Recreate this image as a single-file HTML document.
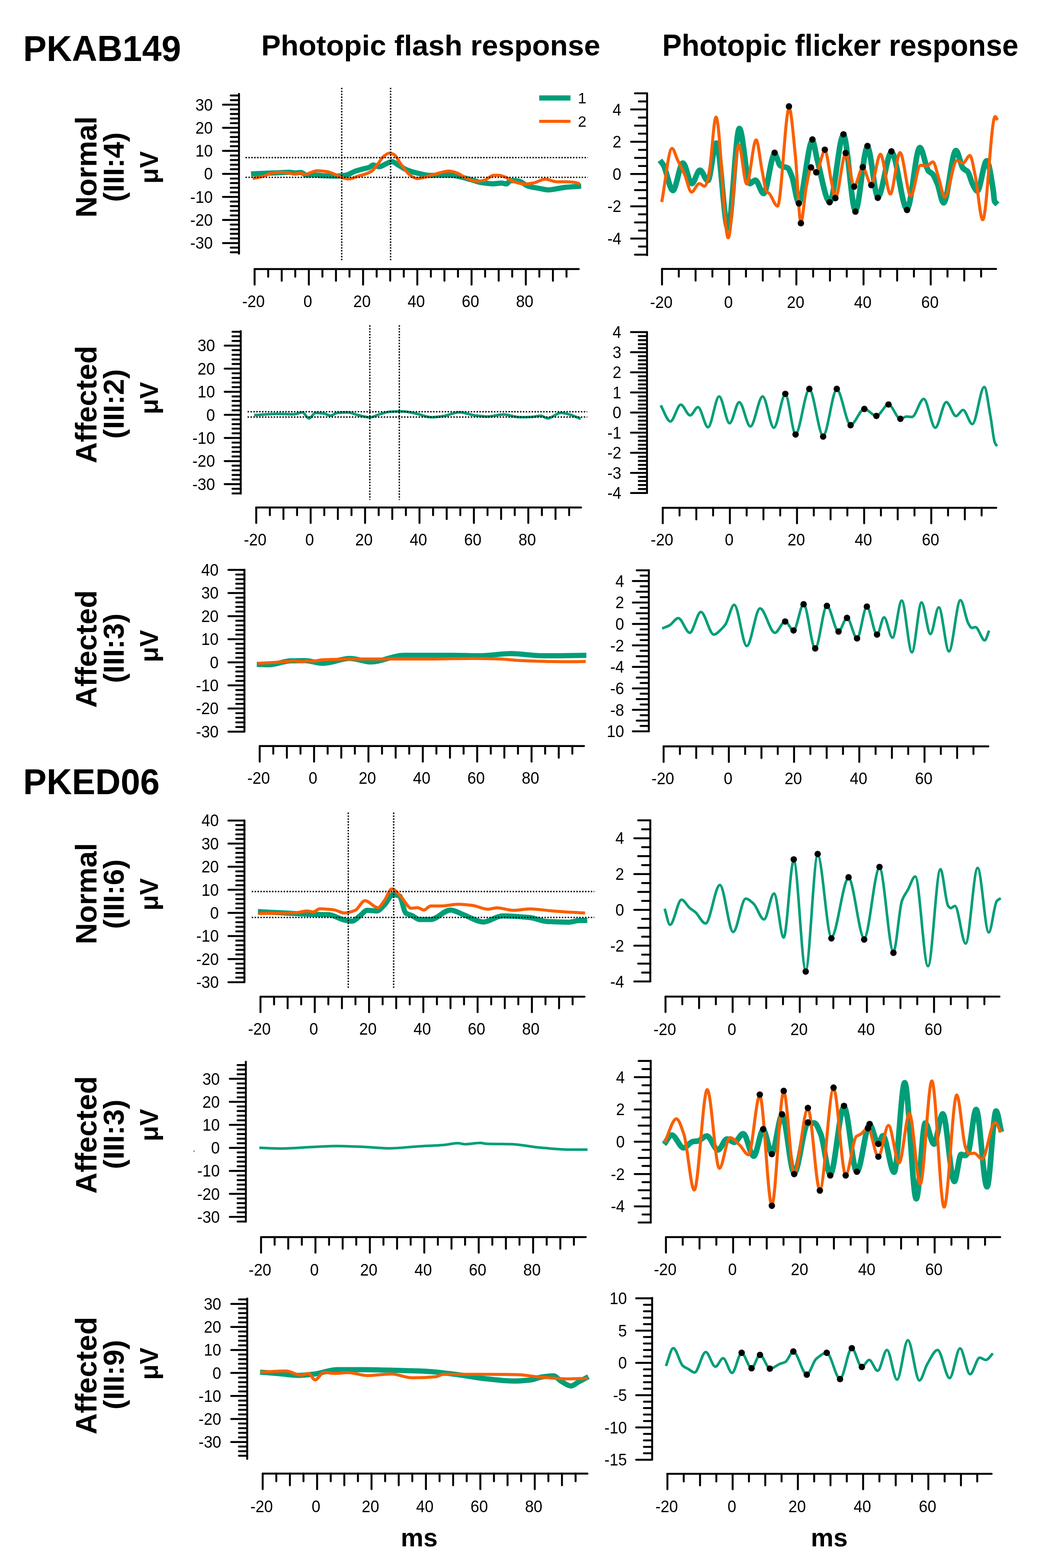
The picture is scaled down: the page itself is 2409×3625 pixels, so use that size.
<!DOCTYPE html>
<html><head><meta charset="utf-8"><title>ERG figure</title><style>html,body{margin:0;padding:0;background:#fff;width:2409px;height:3625px;overflow:hidden}svg{display:block}</style></head><body>
<svg width="2409" height="3625" viewBox="0 0 2409 3625">
<rect width="100%" height="100%" fill="#fff"/>
<style>.tl{font-family:"Liberation Sans",Arial,sans-serif;font-size:35.5px;fill:#000;stroke:none}.b{font-family:"Liberation Sans",Arial,sans-serif;font-weight:bold;fill:#000}</style>
<g fill="none" stroke-linejoin="round" stroke-linecap="butt">
<path d="M580.4,402.2C592,401.6 603.6,400.9 615.2,400.4C624.1,400 633.1,399.9 642,399.5C650.9,399.1 659.8,398.2 668.7,398.2C673.2,398.2 677.6,399.8 682.1,399.8C686.6,399.8 691,398.7 695.5,398.7C700,398.7 704.4,404.9 708.9,404.9C713.4,404.9 717.8,404.2 722.3,404.2C731.2,404.2 740.2,405.9 749.1,406.2C759.4,406.6 769.7,407 780,407C786.7,407 793.4,406.1 800.1,405C806.8,403.9 813.5,398.6 820.2,396.2C826.9,393.8 833.6,392 840.3,390.2C844.8,389 849.2,388.5 853.7,386.9C856.8,385.8 859.9,381.5 863,381.5C867.5,381.5 871.9,385.5 876.4,385.5C882.2,385.5 888,380.5 893.8,378.2C897.8,376.6 901.9,373.5 905.9,373.5C910.8,373.5 915.7,378.8 920.6,381.5C927.3,385.2 934,390.2 940.7,392.9C949.6,396.4 958.6,398.9 967.5,400.9C976.2,402.9 984.9,405.6 993.6,405.6C1002.4,405.6 1011.2,405 1020,405C1026.8,405 1033.6,405 1040.4,405C1049.3,405 1058.3,407.7 1067.2,409.6C1073.9,411 1080.6,413.2 1087.3,415C1096.2,417.4 1105.2,421.1 1114.1,422.4C1122.7,423.6 1131.4,424.9 1140,424.9C1146.7,424.9 1153.3,423.2 1160,423.2C1163.6,423.2 1167.2,425.2 1170.8,425.2C1173.9,425.2 1177.1,417.5 1180.2,417.5C1186.9,417.5 1193.6,418.1 1200.3,418.9C1207,419.7 1213.7,428.3 1220.4,430.3C1229.3,433 1238.2,434 1247.1,435.6C1253.8,436.8 1260.5,439 1267.2,439C1273.9,439 1280.6,437.3 1287.3,436.3C1294,435.3 1300.7,433.5 1307.4,432.9C1314.1,432.3 1320.8,432.1 1327.5,431.6C1332.9,431.2 1338.2,430.7 1343.6,430.3" stroke="#009E78" stroke-width="12"/>
<path d="M584.4,412.9C592.4,411.1 600.5,409.7 608.5,407.5C615.2,405.6 621.9,401.2 628.6,400.2C635.3,399.2 642,398.2 648.7,398.2C655.4,398.2 662,399.3 668.7,400.2C673.2,400.8 677.6,402.6 682.1,402.6C685.7,402.6 689.3,400.2 692.9,400.2C697.3,400.2 701.8,403.5 706.2,403.5C709.3,403.5 712.5,401.2 715.6,400.2C721.4,398.3 727.2,394.8 733,394.8C740.6,394.8 748.2,395.7 755.8,396.8C763.9,397.9 771.9,402.3 780,405.6C784.5,407.4 788.9,410.6 793.4,411.6C797.9,412.6 802.3,413.7 806.8,413.7C813.5,413.7 820.2,409.6 826.9,407.6C833.6,405.6 840.3,404.1 847,401.6C851.5,399.9 855.9,398.1 860.4,394.9C864.8,391.8 869.3,384.4 873.7,378.8C878.2,373.2 882.6,364.8 887.1,361.4C891.6,358 896,354.1 900.5,354.1C904.1,354.1 907.6,355.7 911.2,357.4C916.6,360 921.9,373.2 927.3,380.2C934,388.9 940.7,399.6 947.4,404.3C953.2,408.4 959,413 964.8,413C972.2,413 979.5,410.1 986.9,408.3C995.8,406.1 1004.8,402.4 1013.7,400.3C1021.7,398.4 1029.8,395.6 1037.8,395.6C1044.5,395.6 1051.1,398 1057.8,400.3C1063.2,402.1 1068.5,407.2 1073.9,409.6C1082.8,413.6 1091.8,419 1100.7,419C1107.4,419 1114.1,417.8 1120.8,416.3C1127.2,414.9 1133.6,405.9 1140,405.5C1143.6,405.3 1147.1,405.1 1150.7,405.1C1156.1,405.1 1161.4,407.1 1166.8,408.8C1173.5,410.9 1180.2,417.4 1186.9,419.6C1195.8,422.5 1204.8,425.6 1213.7,425.6C1220.4,425.6 1227,424.1 1233.7,422.9C1242.6,421.2 1251.6,414.2 1260.5,414.2C1269.4,414.2 1278.4,420.2 1287.3,420.2C1294,420.2 1300.7,420.2 1307.4,420.2C1314.1,420.2 1320.8,420.8 1327.5,421.6C1332,422.1 1336.4,423.8 1340.9,424.9" stroke="#FA5F00" stroke-width="7"/>
<path d="M587.5,959.8C605.7,958.8 624,956.8 642.2,956.8C654.6,956.8 667.1,957.8 679.5,957.8C686.1,957.8 692.8,953.6 699.4,953.6C704.4,953.6 709.3,967.3 714.3,967.3C719.3,967.3 724.3,954.8 729.3,954.8C735.9,954.8 742.6,955.4 749.2,956.1C754.2,956.7 759.1,961 764.1,961C769.1,961 774,955.3 779,954.8C787.3,954 795.6,953.6 803.9,953.6C812.2,953.6 820.5,958 828.8,959.8C837.5,961.7 846.2,964.8 854.9,964.8C862.8,964.8 870.6,959.4 878.5,957.3C886.8,955.1 895.1,952.2 903.4,951.8C911.7,951.4 920,951.1 928.3,951.1C938.9,951.1 949.4,953.8 960,955.7C972.8,958 985.5,964.6 998.3,964.6C1006.8,964.6 1015.3,963.2 1023.8,962.1C1036.5,960.4 1049.3,953.2 1062,953.2C1074.8,953.2 1087.5,959.4 1100.3,960.8C1108.8,961.8 1117.3,962.9 1125.8,962.9C1138.6,962.9 1151.3,958.3 1164.1,958.3C1176.8,958.3 1189.6,964.6 1202.3,964.6C1210.8,964.6 1219.4,964.3 1227.9,963.9C1235.5,963.6 1243.2,961.3 1250.8,961.3C1255.9,961.3 1261,967.2 1266.1,967.2C1276.3,967.2 1286.5,954.4 1296.7,954.4C1303.5,954.4 1310.3,956.6 1317.1,958.3C1325.6,960.5 1334.1,965.1 1342.6,968.5" stroke="#009E78" stroke-width="6"/>
<path d="M593.7,1536C603.2,1536.3 612.8,1536.8 622.3,1536.8C638.9,1536.8 655.4,1528.2 672,1527.8C682.8,1527.5 693.6,1527.3 704.4,1527.3C718.5,1527.3 732.6,1533.5 746.7,1533.5C767.4,1533.5 788.2,1522.3 808.9,1522.3C825.5,1522.3 842,1530.3 858.6,1530.3C883.5,1530.3 908.4,1514.9 933.3,1514.9C945.5,1514.9 957.8,1514.9 970,1514.9C994.9,1514.9 1019.7,1514.9 1044.6,1514.9C1065.3,1514.9 1086.1,1516.1 1106.8,1516.1C1131.7,1516.1 1156.5,1511.1 1181.4,1511.1C1206.3,1511.1 1231.2,1516.1 1256.1,1516.1C1289.3,1516.1 1322.4,1515.3 1355.6,1514.9" stroke="#009E78" stroke-width="12"/>
<path d="M596.2,1533.5C617.3,1532.3 638.5,1531.4 659.6,1529.8C666.2,1529.3 672.9,1527.8 679.5,1527.8C685.3,1527.8 691.1,1529.8 696.9,1529.8C701.1,1529.8 705.2,1527.8 709.4,1527.8C713.5,1527.8 717.7,1528.6 721.8,1528.6C730.1,1528.6 738.4,1525.6 746.7,1525.3C775.7,1524.2 804.8,1523.6 833.8,1523.6C879.2,1523.6 924.6,1523.6 970,1523.6C1011.5,1523.6 1052.9,1522.3 1094.4,1522.3C1115.1,1522.3 1135.9,1522.9 1156.6,1523.6C1173.2,1524.2 1189.7,1526.6 1206.3,1527.3C1239.5,1528.6 1272.6,1529.8 1305.8,1529.8C1322,1529.8 1338.1,1529.5 1354.3,1529.3" stroke="#FA5F00" stroke-width="7"/>
<path d="M596.2,2107.6C617.3,2108.7 638.5,2109.8 659.6,2110.8C680.3,2111.8 701.1,2113.2 721.8,2113.8C734.2,2114.2 746.7,2114.1 759.1,2114.6C771.5,2115.1 784,2124.6 796.4,2127C802.2,2128.1 808.1,2129.5 813.9,2129.5C820.5,2129.5 827.2,2120.6 833.8,2115.8C838.8,2112.2 843.7,2104.6 848.7,2104.6C856.2,2104.6 863.6,2105.9 871.1,2105.9C876.9,2105.9 882.7,2097.7 888.5,2092.2C895.1,2086 901.8,2068.6 908.4,2068.6C913.4,2068.6 918.3,2069.5 923.3,2071C928.3,2072.5 933.2,2107.2 938.2,2110.8C943.2,2114.4 948.2,2114.7 953.2,2117C958.8,2119.6 964.4,2125.8 970,2125.8C978.5,2125.8 987,2125.8 995.5,2125.8C1010.8,2125.8 1026.1,2103.9 1041.4,2103.9C1051.6,2103.9 1061.8,2111.1 1072,2114.8C1087.3,2120.3 1102.7,2131.4 1118,2131.4C1132.4,2131.4 1146.9,2117.4 1161.3,2117.4C1182.6,2117.4 1203.8,2119.1 1225.1,2121.2C1237.9,2122.5 1250.6,2129.4 1263.4,2130.2C1280.4,2131.2 1297.4,2131.9 1314.4,2131.9C1322.9,2131.9 1331.4,2128.1 1339.9,2128.1C1345.9,2128.1 1351.8,2128.1 1357.8,2128.1" stroke="#009E78" stroke-width="12"/>
<path d="M597.4,2112.1C626.4,2111.4 655.5,2111.5 684.5,2110.1C692.8,2109.7 701.1,2105.9 709.4,2105.9C714.4,2105.9 719.3,2108.4 724.3,2108.4C729.3,2108.4 734.2,2100.9 739.2,2100.9C750,2100.9 760.8,2102 771.6,2103.4C779.9,2104.4 788.1,2110.8 796.4,2110.8C804.7,2110.8 813,2107.9 821.3,2104.6C828.8,2101.6 836.2,2082.2 843.7,2082.2C853.7,2082.2 863.6,2098.4 873.6,2098.4C878.6,2098.4 883.5,2088.5 888.5,2082.2C894.3,2074.8 900.1,2054.9 905.9,2054.9C913.4,2054.9 920.8,2067.4 928.3,2074.8C935.8,2082.2 943.2,2099.7 950.7,2099.7C955.7,2099.7 960.6,2098.4 965.6,2098.4C970.5,2098.4 975.3,2103.9 980.2,2103.9C985.3,2103.9 990.4,2094.4 995.5,2094.4C1004,2094.4 1012.5,2094.4 1021,2094.4C1033.8,2094.4 1046.5,2090.6 1059.3,2090.6C1070.3,2090.6 1081.4,2091.9 1092.4,2093.2C1104.3,2094.6 1116.3,2102.1 1128.2,2102.1C1135,2102.1 1141.8,2098.8 1148.6,2098.8C1161.3,2098.8 1174.1,2104.6 1186.8,2104.6C1199.6,2104.6 1212.3,2101.3 1225.1,2101.3C1242.1,2101.3 1259.1,2104.6 1276.1,2105.9C1301.6,2107.9 1327.1,2109.3 1352.6,2111" stroke="#FA5F00" stroke-width="7"/>
<path d="M599.6,2653.5C617.4,2654.1 635.2,2655.2 653,2655.2C677.3,2655.2 701.7,2652.5 726,2651.4C743.6,2650.6 761.3,2649.4 778.9,2649.4C799.9,2649.4 820.9,2650.5 841.9,2651.4C861.2,2652.2 880.5,2654.7 899.8,2654.7C922.5,2654.7 945.1,2651.6 967.8,2650.2C988,2649 1008.1,2648.4 1028.3,2646.7C1038.4,2645.9 1048.4,2642.7 1058.5,2642.7C1063.5,2642.7 1068.6,2645.2 1073.6,2645.2C1086.2,2645.2 1098.8,2642.2 1111.4,2642.2C1115.6,2642.2 1119.8,2644 1124,2644.2C1144.2,2644.9 1164.3,2644.6 1184.5,2645.2C1204.6,2645.8 1224.8,2650.9 1244.9,2652.7C1270.1,2654.9 1295.3,2657.8 1320.5,2657.8C1333.1,2657.8 1345.7,2657.8 1358.3,2657.8" stroke="#009E78" stroke-width="6"/>
<path d="M601.3,3172.2C614.3,3173.2 627.4,3174.1 640.4,3175.2C657.2,3176.6 674,3179.7 690.8,3179.7C703.4,3179.7 715.9,3177.9 728.5,3176.4C745.3,3174.4 762.1,3166.4 778.9,3166.4C799.9,3166.4 820.9,3166.4 841.9,3166.4C867.1,3166.4 892.3,3167.4 917.5,3168.1C940,3168.7 962.5,3169.1 985,3170.2C1006.9,3171.2 1028.7,3174.4 1050.6,3177C1075.8,3180 1100.9,3185.3 1126.1,3187.8C1147.1,3189.9 1168.1,3192.8 1189.1,3192.8C1201.7,3192.8 1214.3,3191.7 1226.9,3190.3C1235.3,3189.4 1243.7,3184.7 1252.1,3183.5C1261.3,3182.1 1270.6,3180.7 1279.8,3180.7C1285.7,3180.7 1291.5,3189.9 1297.4,3193.3C1305,3197.7 1312.5,3204.2 1320.1,3204.2C1326,3204.2 1331.8,3197.9 1337.7,3194.8C1345.3,3190.8 1352.8,3186.7 1360.4,3182.7" stroke="#009E78" stroke-width="12"/>
<path d="M602.6,3172.2C621.9,3171.3 641.2,3169.6 660.5,3169.6C672.3,3169.6 684,3179 695.8,3179C701.7,3179 707.5,3175.2 713.4,3175.2C718.4,3175.2 723.5,3190.3 728.5,3190.3C735.2,3190.3 742,3172.7 748.7,3172.7C757.1,3172.7 765.5,3175.2 773.9,3175.2C784,3175.2 794,3173.2 804.1,3173.2C819.2,3173.2 834.3,3180.2 849.4,3180.2C867.9,3180.2 886.4,3176.4 904.9,3176.4C920.8,3176.4 936.8,3185.3 952.7,3185.3C971,3185.3 989.4,3184.4 1007.7,3182.7C1013.6,3182.1 1019.5,3177.2 1025.4,3177.2C1059,3177.2 1092.5,3177.2 1126.1,3177.2C1151.3,3177.2 1176.5,3177.5 1201.7,3178.2C1214.3,3178.5 1226.9,3181.6 1239.5,3182.7C1264.7,3184.9 1289.9,3187.8 1315.1,3187.8C1329.8,3187.8 1344.4,3186.9 1359.1,3186.5" stroke="#FA5F00" stroke-width="7"/>
<path d="M1525.6,370.7C1528.4,374.4 1531.2,377.1 1534,381.9C1541.2,394.1 1548.3,440.5 1555.5,440.5C1563.3,440.5 1571.1,377 1578.9,377C1585.7,377 1592.5,424.5 1599.3,424.5C1605.6,424.5 1611.9,393.4 1618.2,393.4C1624.3,393.4 1630.4,417.7 1636.5,417.7C1643,417.7 1649.6,330.7 1656.1,330.7C1665.1,330.7 1674,528 1683,528C1691.8,528 1700.6,297 1709.4,297C1717.4,297 1725.5,424.5 1733.5,424.5C1737.7,424.5 1742,416.5 1746.2,416.5C1752.6,416.5 1759,447.5 1765.4,447.5C1773.9,447.5 1782.3,356 1790.8,356C1795.3,356 1799.7,380.7 1804.2,383.1C1809.7,386.1 1815.3,385.1 1820.8,388.2C1824.2,390.1 1827.6,399.9 1831,408.6C1836.2,421.9 1841.4,468 1846.6,468C1857.1,468 1867.7,325.5 1878.2,325.5C1882,325.5 1885.8,356.4 1889.6,370.3C1899.2,405.3 1908.7,466.5 1918.3,466.5C1928.9,466.5 1939.4,312.5 1950,312.5C1959.2,312.5 1968.5,486.5 1977.7,486.5C1987,486.5 1996.2,340 2005.5,340C2013.5,340 2021.6,455 2029.6,455C2040.1,455 2050.5,352 2061,352C2073,352 2085,483 2097,483C2106.9,483 2116.8,340.9 2126.7,340.9C2133.2,340.9 2139.8,387.6 2146.3,395C2149.6,398.7 2152.8,398.9 2156.1,402.5C2159.8,406.6 2163.6,416.3 2167.3,425.4C2172,436.9 2176.7,469.1 2181.4,469.1C2191,469.1 2200.5,347.9 2210.1,347.9C2215.5,347.9 2220.9,382.9 2226.3,388.9C2230,393.1 2233.8,393 2237.5,397.3C2241.2,401.6 2245,419.1 2248.7,426C2252.3,432.6 2255.9,441.5 2259.5,441.5C2266.7,441.5 2273.8,371.8 2281,371.8C2286.1,371.8 2291.3,408.4 2296.4,441C2297.3,446.9 2298.3,463 2299.2,465C2301.6,470.1 2303.9,470.1 2306.3,472.6" stroke="#009E78" stroke-width="13"/>
<path d="M1529.8,467C1537.8,425.6 1545.7,342.9 1553.7,342.9C1557.9,342.9 1562.1,360.5 1566.3,369.3C1571.9,381 1577.5,391.4 1583.1,404.3C1588.3,416.2 1593.4,444 1598.6,444C1604.7,444 1610.7,424.5 1616.8,424.5C1620.8,424.5 1624.7,430.5 1628.7,430.5C1631.8,430.5 1634.8,420.9 1637.9,411.4C1643.7,393.3 1649.6,270.8 1655.4,270.8C1664.8,270.8 1674.1,549.8 1683.5,549.8C1691.7,549.8 1699.8,335.3 1708,335.3C1714.1,335.3 1720.2,425.3 1726.3,425.3C1733.6,425.3 1740.8,323.5 1748.1,323.5C1752.8,323.5 1757.4,373.1 1762.1,395.8C1765.5,412.3 1768.9,439.1 1772.3,443C1774.2,445.2 1776.1,445.3 1778,447C1784.5,452.9 1791.1,476.5 1797.6,476.5C1806.6,476.5 1815.5,250 1824.5,250C1829.2,250 1833.9,313.7 1838.6,357.6C1843,398.4 1847.3,514 1851.7,514C1855.8,514 1860,452 1864.1,431.7C1867.7,413.9 1871.4,389 1875,389C1879,389 1883.1,397 1887.1,397C1893.8,397 1900.6,348 1907.3,348C1912.1,348 1916.9,395.8 1921.7,417.3C1924.9,431.7 1928.1,458 1931.3,458C1939.2,458 1947.2,355 1955.1,355C1961.7,355 1968.2,430 1974.8,430C1981.4,430 1988,387.5 1994.6,387.5C2001.2,387.5 2007.8,427 2014.4,427C2021.4,427 2028.4,356.5 2035.4,356.5C2043.1,356.5 2050.7,448.6 2058.4,448.6C2065.8,448.6 2073.3,352.7 2080.7,352.7C2089,352.7 2097.3,452.9 2105.6,452.9C2113.1,452.9 2120.6,382 2128.1,382C2132.8,382 2137.4,384 2142.1,384C2147,384 2151.9,374.2 2156.8,374.2C2161.3,374.2 2165.7,398.2 2170.2,411.4C2174.9,425.2 2179.5,455.8 2184.2,455.8C2193.5,455.8 2202.9,371.4 2212.2,371.4C2216.9,371.4 2221.6,377 2226.3,377C2231.7,377 2237,359.4 2242.4,359.4C2246.4,359.4 2250.3,386.3 2254.3,404.3C2260.2,430.9 2266,508 2271.9,508C2281.5,508 2291,269.6 2300.6,269.6C2302.5,269.6 2304.4,274.8 2306.3,277.4" stroke="#FA5F00" stroke-width="7"/>
<path d="M1527.5,937.1C1535,949.5 1542.4,974.4 1549.9,974.4C1557.9,974.4 1565.9,935.5 1573.9,935.5C1581.1,935.5 1588.3,960.3 1595.5,960.3C1601.6,960.3 1607.6,941.3 1613.7,941.3C1621.4,941.3 1629.2,987.7 1636.9,987.7C1645.5,987.7 1654,916.4 1662.6,916.4C1670.6,916.4 1678.7,978.6 1686.7,978.6C1694.2,978.6 1701.6,929.7 1709.1,929.7C1717.7,929.7 1726.2,986 1734.8,986C1744.3,986 1753.7,916.4 1763.2,916.4C1771.8,916.4 1780.4,989 1789,989C1797.9,989 1806.7,912 1815.6,912C1823.5,912 1831.4,1003 1839.3,1003C1849.9,1003 1860.5,900.5 1871.1,900.5C1881.7,900.5 1892.4,1007.5 1903,1007.5C1913.5,1007.5 1924.1,900.5 1934.6,900.5C1945.2,900.5 1955.9,982 1966.5,982C1977.1,982 1987.7,945.4 1998.3,945.4C2007.6,945.4 2016.8,961.6 2026.1,961.6C2035.4,961.6 2044.8,935.1 2054.1,935.1C2063.3,935.1 2072.4,968.2 2081.6,968.2C2086.4,968.2 2091.1,963.1 2095.9,963.1C2100,963.1 2104.1,964.1 2108.2,964.1C2117.4,964.1 2126.5,922.2 2135.7,922.2C2144.5,922.2 2153.4,989 2162.2,989C2170.7,989 2179.3,929.4 2187.8,929.4C2195.3,929.4 2202.7,962 2210.2,962C2215.6,962 2221.1,947.8 2226.5,947.8C2233.7,947.8 2240.8,980.4 2248,980.4C2257.2,980.4 2266.3,894.7 2275.5,894.7C2280.3,894.7 2285,936.7 2289.8,962C2293.2,980.1 2296.6,1015.3 2300,1023.3C2301.7,1027.3 2303.4,1028.7 2305.1,1031.4" stroke="#009E78" stroke-width="6"/>
<path d="M1530.8,1452.9C1536.6,1450.4 1542.4,1448.7 1548.2,1445.5C1554.8,1441.8 1561.5,1428.9 1568.1,1428.9C1576.9,1428.9 1585.8,1462.9 1594.6,1462.9C1603.2,1462.9 1611.7,1414.8 1620.3,1414.8C1630.3,1414.8 1640.2,1467 1650.2,1467C1656.6,1467 1662.9,1458.9 1669.3,1452.9C1672,1450.3 1674.8,1447.1 1677.5,1443C1684.1,1433 1690.8,1398.2 1697.4,1398.2C1707.1,1398.2 1716.8,1493.5 1726.5,1493.5C1736.7,1493.5 1746.9,1406.5 1757.1,1406.5C1768.6,1406.5 1780,1462.9 1791.5,1462.9C1799.4,1462.9 1807.3,1436.8 1815.2,1436.8C1821.7,1436.8 1828.1,1457.6 1834.6,1457.6C1842.3,1457.6 1850.1,1396.9 1857.8,1396.9C1866.8,1396.9 1875.7,1499 1884.7,1499C1893.7,1499 1902.7,1400.7 1911.7,1400.7C1920.7,1400.7 1929.6,1460 1938.6,1460C1945.1,1460 1951.7,1428.5 1958.2,1428.5C1965.9,1428.5 1973.7,1475.8 1981.4,1475.8C1989,1475.8 1996.5,1402.5 2004.1,1402.5C2011.9,1402.5 2019.8,1467.1 2027.6,1467.1C2033,1467.1 2038.5,1427.3 2043.9,1427.3C2050.4,1427.3 2056.8,1474.3 2063.3,1474.3C2070.4,1474.3 2077.6,1388.6 2084.7,1388.6C2092.5,1388.6 2100.4,1508 2108.2,1508C2115.7,1508 2123.1,1392.7 2130.6,1392.7C2137.4,1392.7 2144.2,1466.1 2151,1466.1C2157.5,1466.1 2163.9,1403.9 2170.4,1403.9C2178.2,1403.9 2186.1,1505.9 2193.9,1505.9C2202.7,1505.9 2211.6,1387.6 2220.4,1387.6C2226.5,1387.6 2232.7,1431.3 2238.8,1441.6C2241.5,1446.1 2244.2,1451.8 2246.9,1451.8C2249.6,1451.8 2252.4,1449.8 2255.1,1449.8C2262.2,1449.8 2269.4,1480.4 2276.5,1480.4C2279.9,1480.4 2283.3,1465.5 2286.7,1458" stroke="#009E78" stroke-width="6"/>
<path d="M1536.6,2100.8C1540.7,2113.2 1544.9,2138.1 1549,2138.1C1557.9,2138.1 1566.7,2080.1 1575.6,2080.1C1581.9,2080.1 1588.3,2093.8 1594.6,2099.2C1599,2103 1603.5,2105.2 1607.9,2109.1C1615.6,2115.9 1623.4,2134.8 1631.1,2134.8C1642.2,2134.8 1653.2,2046.1 1664.3,2046.1C1674.5,2046.1 1684.8,2154.7 1695,2154.7C1704.7,2154.7 1714.3,2077.6 1724,2077.6C1730.1,2077.6 1736.1,2083.9 1742.2,2089.2C1750.2,2096.3 1758.3,2125.6 1766.3,2125.6C1774,2125.6 1781.8,2065.7 1789.5,2065.7C1796.9,2065.7 1804.4,2167.5 1811.8,2167.5C1819.5,2167.5 1827.3,1989.5 1835,1989.5C1844.2,1989.5 1853.5,2242.5 1862.7,2242.5C1871.9,2242.5 1881.2,1977 1890.4,1977C1901,1977 1911.5,2166 1922.1,2166C1935.3,2166 1948.6,2030.5 1961.8,2030.5C1973.8,2030.5 1985.9,2168.5 1997.9,2168.5C2009.7,2168.5 2021.5,2006.5 2033.3,2006.5C2044,2006.5 2054.8,2200 2065.5,2200C2072.1,2200 2078.6,2100.6 2085.2,2082.6C2089.8,2069.9 2094.5,2065.4 2099.1,2056.9C2104.7,2046.6 2110.3,2026.2 2115.9,2026.2C2125.8,2026.2 2135.6,2233.8 2145.5,2233.8C2155.1,2233.8 2164.6,2009.4 2174.2,2009.4C2180.1,2009.4 2186.1,2086.8 2192,2094.4C2194,2096.9 2195.9,2099.4 2197.9,2099.4C2201.2,2099.4 2204.5,2094.4 2207.8,2094.4C2216,2094.4 2224.3,2181.4 2232.5,2181.4C2241.7,2181.4 2251,2006.5 2260.2,2006.5C2268.8,2006.5 2277.3,2155.7 2285.9,2155.7C2292.2,2155.7 2298.4,2089.2 2304.7,2082.6C2307.7,2079.5 2310.6,2078.6 2313.6,2076.6" stroke="#009E78" stroke-width="6"/>
<path d="M1535.3,2645.4C1541.2,2638.3 1547,2624 1552.9,2624C1562.1,2624 1571.3,2653.8 1580.5,2653.8C1587.4,2653.8 1594.2,2640.6 1601.1,2639.3C1605.2,2638.5 1609.3,2638.6 1613.4,2637.8C1620.3,2636.5 1627.1,2626.3 1634,2626.3C1642.7,2626.3 1651.4,2658.4 1660.1,2658.4C1667,2658.4 1673.8,2633.2 1680.7,2633.2C1686.3,2633.2 1692,2640.8 1697.6,2640.8C1704.5,2640.8 1711.3,2620.9 1718.2,2620.9C1726.3,2620.9 1734.4,2673 1742.5,2673C1749.8,2673 1757.2,2612 1764.5,2612C1771.1,2612 1777.8,2666 1784.4,2666C1792.3,2666 1800.2,2578 1808.1,2578C1817.4,2578 1826.8,2712 1836.1,2712C1846.7,2712 1857.2,2598.3 1867.8,2597C1872.7,2596.4 1877.5,2596 1882.4,2596C1887.5,2596 1892.6,2610.2 1897.7,2622.5C1904.9,2639.9 1912.2,2715 1919.4,2715C1930,2715 1940.6,2559 1951.2,2559C1961.1,2559 1971.1,2709 1981,2709C1990.8,2709 2000.7,2600 2010.5,2600C2017.2,2600 2024,2645 2030.7,2645C2034.2,2645 2037.6,2625.4 2041.1,2625.4C2049.8,2625.4 2058.4,2710 2067.1,2710C2075.3,2710 2083.4,2503 2091.6,2503C2100.5,2503 2109.5,2771.5 2118.4,2771.5C2125.3,2771.5 2132.2,2596.3 2139.1,2596.3C2145.7,2596.3 2152.4,2645 2159,2645C2165.9,2645 2172.7,2575 2179.6,2575C2188.5,2575 2197.4,2731.4 2206.3,2731.4C2211.6,2731.4 2216.8,2668.8 2222.1,2668.8C2225,2668.8 2227.9,2671.6 2230.8,2671.6C2233.2,2671.6 2235.6,2668.1 2238,2664.4C2244.2,2654.9 2250.5,2565 2256.7,2565C2265.1,2565 2273.5,2743.7 2281.9,2743.7C2288.9,2743.7 2295.8,2568.6 2302.8,2568.6C2306.9,2568.6 2311,2600.8 2315.1,2616.9" stroke="#009E78" stroke-width="13"/>
<path d="M1536.8,2640.8C1545.7,2622.7 1554.7,2586.5 1563.6,2586.5C1569.5,2586.5 1575.3,2605.5 1581.2,2622.5C1589.1,2645.5 1597.1,2751.2 1605,2751.2C1615,2751.2 1625.1,2519.1 1635.1,2519.1C1644.4,2519.1 1653.8,2701 1663.1,2701C1671.3,2701 1679.4,2630.1 1687.6,2630.1C1695,2630.1 1702.4,2640.3 1709.8,2647C1716.7,2653.2 1723.6,2669.6 1730.5,2669.6C1739.2,2669.6 1747.8,2533 1756.5,2533C1765.8,2533 1775.1,2786 1784.4,2786C1793.6,2786 1802.7,2524 1811.9,2524C1820,2524 1828,2713 1836.1,2713C1846.7,2713 1857.2,2563.5 1867.8,2563.5C1877,2563.5 1886.2,2751 1895.4,2751C1906,2751 1916.5,2516.5 1927.1,2516.5C1936.4,2516.5 1945.8,2716 1955.1,2716C1963.4,2716 1971.6,2633.5 1979.9,2627C1983,2624.6 1986,2624.2 1989.1,2622.4C1995,2618.9 2000.8,2608.6 2006.7,2608.6C2014.7,2608.6 2022.7,2674 2030.7,2674C2038.5,2674 2046.3,2601.7 2054.1,2601.7C2062.3,2601.7 2070.4,2688.7 2078.6,2688.7C2086.5,2688.7 2094.5,2574.1 2102.4,2574.1C2110.8,2574.1 2119.2,2737 2127.6,2737C2136.5,2737 2145.5,2499.1 2154.4,2499.1C2163.8,2499.1 2173.3,2790.7 2182.7,2790.7C2192.5,2790.7 2202.2,2531.6 2212,2531.6C2218.7,2531.6 2225.5,2636.7 2232.2,2652.9C2235.1,2659.9 2238,2667.3 2240.9,2667.3C2244.7,2667.3 2248.6,2665.9 2252.4,2665.9C2258.4,2665.9 2264.4,2679.6 2270.4,2679.6C2280.3,2679.6 2290.1,2595.3 2300,2595.3C2304.8,2595.3 2309.6,2610.2 2314.4,2617.6" stroke="#FA5F00" stroke-width="7"/>
<path d="M1539.6,3157.9C1545.3,3144.2 1550.9,3116.8 1556.6,3116.8C1564,3116.8 1571.5,3151.8 1578.9,3157.9C1583.1,3161.3 1587.2,3162.7 1591.4,3165C1596.2,3167.7 1600.9,3173 1605.7,3173C1614.3,3173 1623,3125.7 1631.6,3125.7C1639,3125.7 1646.5,3159.6 1653.9,3159.6C1659.9,3159.6 1665.8,3140 1671.8,3140C1678.6,3140 1685.5,3173.9 1692.3,3173.9C1699.7,3173.9 1707.2,3128 1714.6,3128C1722.2,3128 1729.9,3163 1737.5,3163C1744,3163 1750.5,3132.5 1757,3132.5C1764.8,3132.5 1772.6,3164 1780.4,3164C1788,3164 1795.6,3156 1803.2,3153C1807.4,3151.3 1811.5,3150.8 1815.7,3148.6C1821.8,3145.3 1828,3124.8 1834.1,3124.8C1844.5,3124.8 1854.8,3177.5 1865.2,3177.5C1872.5,3177.5 1879.8,3147.6 1887.1,3141.4C1895.2,3134.6 1903.2,3127.8 1911.3,3127.8C1921.6,3127.8 1931.8,3187.5 1942.1,3187.5C1951.2,3187.5 1960.2,3117.3 1969.3,3117.3C1977,3117.3 1984.8,3160 1992.5,3160C1998.2,3160 2003.8,3144.1 2009.5,3144.1C2016,3144.1 2022.6,3169.1 2029.1,3169.1C2036.3,3169.1 2043.4,3120.9 2050.6,3120.9C2058.4,3120.9 2066.1,3189.6 2073.9,3189.6C2082.2,3189.6 2090.6,3098.6 2098.9,3098.6C2107.8,3098.6 2116.8,3191.4 2125.7,3191.4C2131.7,3191.4 2137.6,3163.9 2143.6,3153.9C2151.6,3140.5 2159.7,3120.9 2167.7,3120.9C2176.9,3120.9 2186.2,3186.1 2195.4,3186.1C2203.4,3186.1 2211.5,3117.3 2219.5,3117.3C2227.2,3117.3 2235,3177.1 2242.7,3177.1C2250.1,3177.1 2257.6,3138.8 2265,3138.8C2269.8,3138.8 2274.5,3144.1 2279.3,3144.1C2284.7,3144.1 2290,3134 2295.4,3128.9" stroke="#009E78" stroke-width="6"/>
</g>
<g stroke="#000" stroke-width="3.2" stroke-dasharray="3.3 3.4" fill="none">
<line x1="567.6" y1="364.4" x2="1359" y2="364.4"/>
<line x1="567.6" y1="410" x2="1359" y2="410"/>
<line x1="790" y1="203" x2="790" y2="604"/>
<line x1="903" y1="203" x2="903" y2="604"/>
<line x1="572.4" y1="951.8" x2="1357.6" y2="951.8"/>
<line x1="572.4" y1="964.2" x2="1357.6" y2="964.2"/>
<line x1="855" y1="752" x2="855" y2="1155.7"/>
<line x1="923.2" y1="752" x2="923.2" y2="1155.7"/>
<line x1="582" y1="2061.1" x2="1374" y2="2061.1"/>
<line x1="582" y1="2121" x2="1374" y2="2121"/>
<line x1="805.2" y1="1878.5" x2="805.2" y2="2285.7"/>
<line x1="910.1" y1="1878.5" x2="910.1" y2="2285.7"/>
</g>
<g fill="#000">
<circle cx="1824" cy="245.9" r="7.4"/>
<circle cx="1790.8" cy="353.1" r="7.4"/>
<circle cx="1878.2" cy="322.5" r="7.4"/>
<circle cx="1906.9" cy="346.1" r="7.4"/>
<circle cx="1875" cy="386.9" r="7.4"/>
<circle cx="1887.1" cy="398.4" r="7.4"/>
<circle cx="1846.9" cy="470.2" r="7.4"/>
<circle cx="1851.6" cy="516.1" r="7.4"/>
<circle cx="1917.9" cy="467.6" r="7.4"/>
<circle cx="1931.3" cy="458" r="7.4"/>
<circle cx="1950" cy="310.6" r="7.4"/>
<circle cx="1955.1" cy="353.7" r="7.4"/>
<circle cx="2005.5" cy="337.4" r="7.4"/>
<circle cx="2060.9" cy="349.9" r="7.4"/>
<circle cx="1994.6" cy="386.5" r="7.4"/>
<circle cx="1974.8" cy="431.5" r="7.4"/>
<circle cx="2014.4" cy="428" r="7.4"/>
<circle cx="2029.4" cy="457.3" r="7.4"/>
<circle cx="1977.7" cy="489.2" r="7.4"/>
<circle cx="2097" cy="485.4" r="7.4"/>
<circle cx="1815.6" cy="910.6" r="7.4"/>
<circle cx="1839.3" cy="1004.6" r="7.4"/>
<circle cx="1871.1" cy="899" r="7.4"/>
<circle cx="1903" cy="1009.3" r="7.4"/>
<circle cx="1934.6" cy="899" r="7.4"/>
<circle cx="1966.5" cy="983" r="7.4"/>
<circle cx="1998.3" cy="945.4" r="7.4"/>
<circle cx="2026.1" cy="961.6" r="7.4"/>
<circle cx="2054.1" cy="935.1" r="7.4"/>
<circle cx="2081.6" cy="968.2" r="7.4"/>
<circle cx="1815.2" cy="1436.8" r="7.4"/>
<circle cx="1834.6" cy="1457.6" r="7.4"/>
<circle cx="1857.8" cy="1396.9" r="7.4"/>
<circle cx="1884.7" cy="1499" r="7.4"/>
<circle cx="1911.7" cy="1400.7" r="7.4"/>
<circle cx="1938.6" cy="1460" r="7.4"/>
<circle cx="1958.2" cy="1428.5" r="7.4"/>
<circle cx="1981.4" cy="1475.8" r="7.4"/>
<circle cx="2004.1" cy="1402.3" r="7.4"/>
<circle cx="2027.6" cy="1467.1" r="7.4"/>
<circle cx="1835" cy="1986.8" r="7.4"/>
<circle cx="1862.7" cy="2246.1" r="7.4"/>
<circle cx="1890.4" cy="1974.3" r="7.4"/>
<circle cx="1922.1" cy="2169.3" r="7.4"/>
<circle cx="1961.8" cy="2028.2" r="7.4"/>
<circle cx="1997.9" cy="2172" r="7.4"/>
<circle cx="2033.3" cy="2004.3" r="7.4"/>
<circle cx="2065.5" cy="2202.8" r="7.4"/>
<circle cx="1756.5" cy="2530.6" r="7.4"/>
<circle cx="1764.5" cy="2610.5" r="7.4"/>
<circle cx="1784.4" cy="2668.1" r="7.4"/>
<circle cx="1811.9" cy="2521.9" r="7.4"/>
<circle cx="1808.1" cy="2576.2" r="7.4"/>
<circle cx="1836.1" cy="2714.3" r="7.4"/>
<circle cx="1867.8" cy="2561.5" r="7.4"/>
<circle cx="1867.8" cy="2594.9" r="7.4"/>
<circle cx="1927.1" cy="2514.5" r="7.4"/>
<circle cx="1951.2" cy="2556.6" r="7.4"/>
<circle cx="1919.4" cy="2717.4" r="7.4"/>
<circle cx="1955.1" cy="2717.4" r="7.4"/>
<circle cx="1981" cy="2708.8" r="7.4"/>
<circle cx="1784.4" cy="2787.6" r="7.4"/>
<circle cx="1895.4" cy="2752.4" r="7.4"/>
<circle cx="2010.5" cy="2598.6" r="7.4"/>
<circle cx="2006.7" cy="2608.6" r="7.4"/>
<circle cx="2030.7" cy="2644.5" r="7.4"/>
<circle cx="2030.7" cy="2674.1" r="7.4"/>
<circle cx="1714.6" cy="3127.5" r="7.4"/>
<circle cx="1737.5" cy="3163.2" r="7.4"/>
<circle cx="1757" cy="3132.3" r="7.4"/>
<circle cx="1779.8" cy="3164.1" r="7.4"/>
<circle cx="1834.1" cy="3124.5" r="7.4"/>
<circle cx="1865.2" cy="3178" r="7.4"/>
<circle cx="1911.3" cy="3127.5" r="7.4"/>
<circle cx="1942.1" cy="3188.2" r="7.4"/>
<circle cx="1969.3" cy="3116.8" r="7.4"/>
<circle cx="1992.5" cy="3160.2" r="7.4"/>
</g>
<g stroke="#000" stroke-width="4.5" stroke-linecap="round">
<line x1="552.5" y1="217" x2="552.5" y2="586.5"/>
<line x1="533.5" y1="583.2" x2="552.5" y2="583.2"/>
<line x1="533.5" y1="572.6" x2="552.5" y2="572.6"/>
<line x1="515.5" y1="561.9" x2="552.5" y2="561.9"/>
<line x1="533.5" y1="551.2" x2="552.5" y2="551.2"/>
<line x1="533.5" y1="540.6" x2="552.5" y2="540.6"/>
<line x1="533.5" y1="529.9" x2="552.5" y2="529.9"/>
<line x1="533.5" y1="519.3" x2="552.5" y2="519.3"/>
<line x1="515.5" y1="508.6" x2="552.5" y2="508.6"/>
<line x1="533.5" y1="497.9" x2="552.5" y2="497.9"/>
<line x1="533.5" y1="487.3" x2="552.5" y2="487.3"/>
<line x1="533.5" y1="476.6" x2="552.5" y2="476.6"/>
<line x1="533.5" y1="466" x2="552.5" y2="466"/>
<line x1="515.5" y1="455.3" x2="552.5" y2="455.3"/>
<line x1="533.5" y1="444.6" x2="552.5" y2="444.6"/>
<line x1="533.5" y1="434" x2="552.5" y2="434"/>
<line x1="533.5" y1="423.3" x2="552.5" y2="423.3"/>
<line x1="533.5" y1="412.7" x2="552.5" y2="412.7"/>
<line x1="515.5" y1="402" x2="552.5" y2="402"/>
<line x1="533.5" y1="391.3" x2="552.5" y2="391.3"/>
<line x1="533.5" y1="380.7" x2="552.5" y2="380.7"/>
<line x1="533.5" y1="370" x2="552.5" y2="370"/>
<line x1="533.5" y1="359.4" x2="552.5" y2="359.4"/>
<line x1="515.5" y1="348.7" x2="552.5" y2="348.7"/>
<line x1="533.5" y1="338" x2="552.5" y2="338"/>
<line x1="533.5" y1="327.4" x2="552.5" y2="327.4"/>
<line x1="533.5" y1="316.7" x2="552.5" y2="316.7"/>
<line x1="533.5" y1="306.1" x2="552.5" y2="306.1"/>
<line x1="515.5" y1="295.4" x2="552.5" y2="295.4"/>
<line x1="533.5" y1="284.7" x2="552.5" y2="284.7"/>
<line x1="533.5" y1="274.1" x2="552.5" y2="274.1"/>
<line x1="533.5" y1="263.4" x2="552.5" y2="263.4"/>
<line x1="533.5" y1="252.8" x2="552.5" y2="252.8"/>
<line x1="515.5" y1="242.1" x2="552.5" y2="242.1"/>
<line x1="533.5" y1="231.4" x2="552.5" y2="231.4"/>
<line x1="533.5" y1="220.8" x2="552.5" y2="220.8"/>
<text class="tl" text-anchor="end" transform="translate(492,255.5) scale(1.02,1.1)">30</text>
<text class="tl" text-anchor="end" transform="translate(492,308.8) scale(1.02,1.1)">20</text>
<text class="tl" text-anchor="end" transform="translate(492,362.1) scale(1.02,1.1)">10</text>
<text class="tl" text-anchor="end" transform="translate(492,415.4) scale(1.02,1.1)">0</text>
<text class="tl" text-anchor="end" transform="translate(492,468.7) scale(1.02,1.1)">-10</text>
<text class="tl" text-anchor="end" transform="translate(492,522) scale(1.02,1.1)">-20</text>
<text class="tl" text-anchor="end" transform="translate(492,575.3) scale(1.02,1.1)">-30</text>
<line x1="588.6" y1="622" x2="1338" y2="622"/>
<line x1="588.6" y1="622" x2="588.6" y2="657.9"/>
<line x1="620" y1="622" x2="620" y2="639.8"/>
<line x1="651.3" y1="622" x2="651.3" y2="648.9"/>
<line x1="682.6" y1="622" x2="682.6" y2="639.8"/>
<line x1="714" y1="622" x2="714" y2="657.9"/>
<line x1="745.4" y1="622" x2="745.4" y2="639.8"/>
<line x1="776.7" y1="622" x2="776.7" y2="648.9"/>
<line x1="808" y1="622" x2="808" y2="639.8"/>
<line x1="839.4" y1="622" x2="839.4" y2="657.9"/>
<line x1="870.8" y1="622" x2="870.8" y2="639.8"/>
<line x1="902.1" y1="622" x2="902.1" y2="648.9"/>
<line x1="933.5" y1="622" x2="933.5" y2="639.8"/>
<line x1="964.8" y1="622" x2="964.8" y2="657.9"/>
<line x1="996.1" y1="622" x2="996.1" y2="639.8"/>
<line x1="1027.5" y1="622" x2="1027.5" y2="648.9"/>
<line x1="1058.8" y1="622" x2="1058.8" y2="639.8"/>
<line x1="1090.2" y1="622" x2="1090.2" y2="657.9"/>
<line x1="1121.5" y1="622" x2="1121.5" y2="639.8"/>
<line x1="1152.9" y1="622" x2="1152.9" y2="648.9"/>
<line x1="1184.2" y1="622" x2="1184.2" y2="639.8"/>
<line x1="1215.6" y1="622" x2="1215.6" y2="657.9"/>
<line x1="1246.9" y1="622" x2="1246.9" y2="639.8"/>
<line x1="1278.3" y1="622" x2="1278.3" y2="648.9"/>
<line x1="1309.7" y1="622" x2="1309.7" y2="639.8"/>
<text class="tl" text-anchor="middle" transform="translate(586.1,710.3) scale(1.02,1.1)">-20</text>
<text class="tl" text-anchor="middle" transform="translate(711.5,710.3) scale(1.02,1.1)">0</text>
<text class="tl" text-anchor="middle" transform="translate(836.9,710.3) scale(1.02,1.1)">20</text>
<text class="tl" text-anchor="middle" transform="translate(962.3,710.3) scale(1.02,1.1)">40</text>
<text class="tl" text-anchor="middle" transform="translate(1087.7,710.3) scale(1.02,1.1)">60</text>
<text class="tl" text-anchor="middle" transform="translate(1213.1,710.3) scale(1.02,1.1)">80</text>
<line x1="556.5" y1="765.5" x2="556.5" y2="1141.3"/>
<line x1="537.5" y1="1140.7" x2="556.5" y2="1140.7"/>
<line x1="537.5" y1="1130" x2="556.5" y2="1130"/>
<line x1="519.5" y1="1119.3" x2="556.5" y2="1119.3"/>
<line x1="537.5" y1="1108.6" x2="556.5" y2="1108.6"/>
<line x1="537.5" y1="1097.9" x2="556.5" y2="1097.9"/>
<line x1="537.5" y1="1087.3" x2="556.5" y2="1087.3"/>
<line x1="537.5" y1="1076.6" x2="556.5" y2="1076.6"/>
<line x1="519.5" y1="1065.9" x2="556.5" y2="1065.9"/>
<line x1="537.5" y1="1055.2" x2="556.5" y2="1055.2"/>
<line x1="537.5" y1="1044.5" x2="556.5" y2="1044.5"/>
<line x1="537.5" y1="1033.9" x2="556.5" y2="1033.9"/>
<line x1="537.5" y1="1023.2" x2="556.5" y2="1023.2"/>
<line x1="519.5" y1="1012.5" x2="556.5" y2="1012.5"/>
<line x1="537.5" y1="1001.8" x2="556.5" y2="1001.8"/>
<line x1="537.5" y1="991.1" x2="556.5" y2="991.1"/>
<line x1="537.5" y1="980.5" x2="556.5" y2="980.5"/>
<line x1="537.5" y1="969.8" x2="556.5" y2="969.8"/>
<line x1="519.5" y1="959.1" x2="556.5" y2="959.1"/>
<line x1="537.5" y1="948.4" x2="556.5" y2="948.4"/>
<line x1="537.5" y1="937.7" x2="556.5" y2="937.7"/>
<line x1="537.5" y1="927.1" x2="556.5" y2="927.1"/>
<line x1="537.5" y1="916.4" x2="556.5" y2="916.4"/>
<line x1="519.5" y1="905.7" x2="556.5" y2="905.7"/>
<line x1="537.5" y1="895" x2="556.5" y2="895"/>
<line x1="537.5" y1="884.3" x2="556.5" y2="884.3"/>
<line x1="537.5" y1="873.7" x2="556.5" y2="873.7"/>
<line x1="537.5" y1="863" x2="556.5" y2="863"/>
<line x1="519.5" y1="852.3" x2="556.5" y2="852.3"/>
<line x1="537.5" y1="841.6" x2="556.5" y2="841.6"/>
<line x1="537.5" y1="830.9" x2="556.5" y2="830.9"/>
<line x1="537.5" y1="820.3" x2="556.5" y2="820.3"/>
<line x1="537.5" y1="809.6" x2="556.5" y2="809.6"/>
<line x1="519.5" y1="798.9" x2="556.5" y2="798.9"/>
<line x1="537.5" y1="788.2" x2="556.5" y2="788.2"/>
<line x1="537.5" y1="777.5" x2="556.5" y2="777.5"/>
<line x1="537.5" y1="766.9" x2="556.5" y2="766.9"/>
<text class="tl" text-anchor="end" transform="translate(497.1,812.3) scale(1.02,1.1)">30</text>
<text class="tl" text-anchor="end" transform="translate(497.1,865.7) scale(1.02,1.1)">20</text>
<text class="tl" text-anchor="end" transform="translate(497.1,919.1) scale(1.02,1.1)">10</text>
<text class="tl" text-anchor="end" transform="translate(497.1,972.5) scale(1.02,1.1)">0</text>
<text class="tl" text-anchor="end" transform="translate(497.1,1025.9) scale(1.02,1.1)">-10</text>
<text class="tl" text-anchor="end" transform="translate(497.1,1079.3) scale(1.02,1.1)">-20</text>
<text class="tl" text-anchor="end" transform="translate(497.1,1132.7) scale(1.02,1.1)">-30</text>
<line x1="592.2" y1="1173.2" x2="1343.3" y2="1173.2"/>
<line x1="592.4" y1="1173.2" x2="592.4" y2="1209.1"/>
<line x1="623.9" y1="1173.2" x2="623.9" y2="1191"/>
<line x1="655.3" y1="1173.2" x2="655.3" y2="1200.1"/>
<line x1="686.8" y1="1173.2" x2="686.8" y2="1191"/>
<line x1="718.2" y1="1173.2" x2="718.2" y2="1209.1"/>
<line x1="749.7" y1="1173.2" x2="749.7" y2="1191"/>
<line x1="781.1" y1="1173.2" x2="781.1" y2="1200.1"/>
<line x1="812.6" y1="1173.2" x2="812.6" y2="1191"/>
<line x1="844" y1="1173.2" x2="844" y2="1209.1"/>
<line x1="875.5" y1="1173.2" x2="875.5" y2="1191"/>
<line x1="906.9" y1="1173.2" x2="906.9" y2="1200.1"/>
<line x1="938.4" y1="1173.2" x2="938.4" y2="1191"/>
<line x1="969.8" y1="1173.2" x2="969.8" y2="1209.1"/>
<line x1="1001.2" y1="1173.2" x2="1001.2" y2="1191"/>
<line x1="1032.7" y1="1173.2" x2="1032.7" y2="1200.1"/>
<line x1="1064.2" y1="1173.2" x2="1064.2" y2="1191"/>
<line x1="1095.6" y1="1173.2" x2="1095.6" y2="1209.1"/>
<line x1="1127.1" y1="1173.2" x2="1127.1" y2="1191"/>
<line x1="1158.5" y1="1173.2" x2="1158.5" y2="1200.1"/>
<line x1="1190" y1="1173.2" x2="1190" y2="1191"/>
<line x1="1221.4" y1="1173.2" x2="1221.4" y2="1209.1"/>
<line x1="1252.8" y1="1173.2" x2="1252.8" y2="1191"/>
<line x1="1284.3" y1="1173.2" x2="1284.3" y2="1200.1"/>
<line x1="1315.8" y1="1173.2" x2="1315.8" y2="1191"/>
<text class="tl" text-anchor="middle" transform="translate(589.9,1260.8) scale(1.02,1.1)">-20</text>
<text class="tl" text-anchor="middle" transform="translate(715.7,1260.8) scale(1.02,1.1)">0</text>
<text class="tl" text-anchor="middle" transform="translate(841.5,1260.8) scale(1.02,1.1)">20</text>
<text class="tl" text-anchor="middle" transform="translate(967.3,1260.8) scale(1.02,1.1)">40</text>
<text class="tl" text-anchor="middle" transform="translate(1093.1,1260.8) scale(1.02,1.1)">60</text>
<text class="tl" text-anchor="middle" transform="translate(1218.9,1260.8) scale(1.02,1.1)">80</text>
<line x1="565.1" y1="1317.1" x2="565.1" y2="1690.7"/>
<line x1="528.1" y1="1691.4" x2="565.1" y2="1691.4"/>
<line x1="546.1" y1="1680.7" x2="565.1" y2="1680.7"/>
<line x1="546.1" y1="1670" x2="565.1" y2="1670"/>
<line x1="546.1" y1="1659.4" x2="565.1" y2="1659.4"/>
<line x1="546.1" y1="1648.7" x2="565.1" y2="1648.7"/>
<line x1="528.1" y1="1638" x2="565.1" y2="1638"/>
<line x1="546.1" y1="1627.3" x2="565.1" y2="1627.3"/>
<line x1="546.1" y1="1616.6" x2="565.1" y2="1616.6"/>
<line x1="546.1" y1="1606" x2="565.1" y2="1606"/>
<line x1="546.1" y1="1595.3" x2="565.1" y2="1595.3"/>
<line x1="528.1" y1="1584.6" x2="565.1" y2="1584.6"/>
<line x1="546.1" y1="1573.9" x2="565.1" y2="1573.9"/>
<line x1="546.1" y1="1563.2" x2="565.1" y2="1563.2"/>
<line x1="546.1" y1="1552.6" x2="565.1" y2="1552.6"/>
<line x1="546.1" y1="1541.9" x2="565.1" y2="1541.9"/>
<line x1="528.1" y1="1531.2" x2="565.1" y2="1531.2"/>
<line x1="546.1" y1="1520.5" x2="565.1" y2="1520.5"/>
<line x1="546.1" y1="1509.8" x2="565.1" y2="1509.8"/>
<line x1="546.1" y1="1499.2" x2="565.1" y2="1499.2"/>
<line x1="546.1" y1="1488.5" x2="565.1" y2="1488.5"/>
<line x1="528.1" y1="1477.8" x2="565.1" y2="1477.8"/>
<line x1="546.1" y1="1467.1" x2="565.1" y2="1467.1"/>
<line x1="546.1" y1="1456.4" x2="565.1" y2="1456.4"/>
<line x1="546.1" y1="1445.8" x2="565.1" y2="1445.8"/>
<line x1="546.1" y1="1435.1" x2="565.1" y2="1435.1"/>
<line x1="528.1" y1="1424.4" x2="565.1" y2="1424.4"/>
<line x1="546.1" y1="1413.7" x2="565.1" y2="1413.7"/>
<line x1="546.1" y1="1403" x2="565.1" y2="1403"/>
<line x1="546.1" y1="1392.4" x2="565.1" y2="1392.4"/>
<line x1="546.1" y1="1381.7" x2="565.1" y2="1381.7"/>
<line x1="528.1" y1="1371" x2="565.1" y2="1371"/>
<line x1="546.1" y1="1360.3" x2="565.1" y2="1360.3"/>
<line x1="546.1" y1="1349.6" x2="565.1" y2="1349.6"/>
<line x1="546.1" y1="1339" x2="565.1" y2="1339"/>
<line x1="546.1" y1="1328.3" x2="565.1" y2="1328.3"/>
<line x1="528.1" y1="1317.6" x2="565.1" y2="1317.6"/>
<text class="tl" text-anchor="end" transform="translate(505.4,1331) scale(1.02,1.1)">40</text>
<text class="tl" text-anchor="end" transform="translate(505.4,1384.4) scale(1.02,1.1)">30</text>
<text class="tl" text-anchor="end" transform="translate(505.4,1437.8) scale(1.02,1.1)">20</text>
<text class="tl" text-anchor="end" transform="translate(505.4,1491.2) scale(1.02,1.1)">10</text>
<text class="tl" text-anchor="end" transform="translate(505.4,1544.6) scale(1.02,1.1)">0</text>
<text class="tl" text-anchor="end" transform="translate(505.4,1598) scale(1.02,1.1)">-10</text>
<text class="tl" text-anchor="end" transform="translate(505.4,1651.4) scale(1.02,1.1)">-20</text>
<text class="tl" text-anchor="end" transform="translate(505.4,1704.8) scale(1.02,1.1)">-30</text>
<line x1="601.1" y1="1724.8" x2="1350.2" y2="1724.8"/>
<line x1="600.4" y1="1724.8" x2="600.4" y2="1760.7"/>
<line x1="631.8" y1="1724.8" x2="631.8" y2="1742.6"/>
<line x1="663.2" y1="1724.8" x2="663.2" y2="1751.7"/>
<line x1="694.7" y1="1724.8" x2="694.7" y2="1742.6"/>
<line x1="726.1" y1="1724.8" x2="726.1" y2="1760.7"/>
<line x1="757.5" y1="1724.8" x2="757.5" y2="1742.6"/>
<line x1="789" y1="1724.8" x2="789" y2="1751.7"/>
<line x1="820.4" y1="1724.8" x2="820.4" y2="1742.6"/>
<line x1="851.8" y1="1724.8" x2="851.8" y2="1760.7"/>
<line x1="883.2" y1="1724.8" x2="883.2" y2="1742.6"/>
<line x1="914.7" y1="1724.8" x2="914.7" y2="1751.7"/>
<line x1="946.1" y1="1724.8" x2="946.1" y2="1742.6"/>
<line x1="977.5" y1="1724.8" x2="977.5" y2="1760.7"/>
<line x1="1008.9" y1="1724.8" x2="1008.9" y2="1742.6"/>
<line x1="1040.3" y1="1724.8" x2="1040.3" y2="1751.7"/>
<line x1="1071.8" y1="1724.8" x2="1071.8" y2="1742.6"/>
<line x1="1103.2" y1="1724.8" x2="1103.2" y2="1760.7"/>
<line x1="1134.6" y1="1724.8" x2="1134.6" y2="1742.6"/>
<line x1="1166" y1="1724.8" x2="1166" y2="1751.7"/>
<line x1="1197.5" y1="1724.8" x2="1197.5" y2="1742.6"/>
<line x1="1228.9" y1="1724.8" x2="1228.9" y2="1760.7"/>
<line x1="1260.3" y1="1724.8" x2="1260.3" y2="1742.6"/>
<line x1="1291.8" y1="1724.8" x2="1291.8" y2="1751.7"/>
<line x1="1323.2" y1="1724.8" x2="1323.2" y2="1742.6"/>
<text class="tl" text-anchor="middle" transform="translate(597.9,1811.8) scale(1.02,1.1)">-20</text>
<text class="tl" text-anchor="middle" transform="translate(723.6,1811.8) scale(1.02,1.1)">0</text>
<text class="tl" text-anchor="middle" transform="translate(849.3,1811.8) scale(1.02,1.1)">20</text>
<text class="tl" text-anchor="middle" transform="translate(975,1811.8) scale(1.02,1.1)">40</text>
<text class="tl" text-anchor="middle" transform="translate(1100.7,1811.8) scale(1.02,1.1)">60</text>
<text class="tl" text-anchor="middle" transform="translate(1226.4,1811.8) scale(1.02,1.1)">80</text>
<line x1="565.1" y1="1896.7" x2="565.1" y2="2270.4"/>
<line x1="528.1" y1="2270.7" x2="565.1" y2="2270.7"/>
<line x1="546.1" y1="2260" x2="565.1" y2="2260"/>
<line x1="546.1" y1="2249.3" x2="565.1" y2="2249.3"/>
<line x1="546.1" y1="2238.7" x2="565.1" y2="2238.7"/>
<line x1="546.1" y1="2228" x2="565.1" y2="2228"/>
<line x1="528.1" y1="2217.3" x2="565.1" y2="2217.3"/>
<line x1="546.1" y1="2206.6" x2="565.1" y2="2206.6"/>
<line x1="546.1" y1="2195.9" x2="565.1" y2="2195.9"/>
<line x1="546.1" y1="2185.3" x2="565.1" y2="2185.3"/>
<line x1="546.1" y1="2174.6" x2="565.1" y2="2174.6"/>
<line x1="528.1" y1="2163.9" x2="565.1" y2="2163.9"/>
<line x1="546.1" y1="2153.2" x2="565.1" y2="2153.2"/>
<line x1="546.1" y1="2142.5" x2="565.1" y2="2142.5"/>
<line x1="546.1" y1="2131.9" x2="565.1" y2="2131.9"/>
<line x1="546.1" y1="2121.2" x2="565.1" y2="2121.2"/>
<line x1="528.1" y1="2110.5" x2="565.1" y2="2110.5"/>
<line x1="546.1" y1="2099.8" x2="565.1" y2="2099.8"/>
<line x1="546.1" y1="2089.1" x2="565.1" y2="2089.1"/>
<line x1="546.1" y1="2078.5" x2="565.1" y2="2078.5"/>
<line x1="546.1" y1="2067.8" x2="565.1" y2="2067.8"/>
<line x1="528.1" y1="2057.1" x2="565.1" y2="2057.1"/>
<line x1="546.1" y1="2046.4" x2="565.1" y2="2046.4"/>
<line x1="546.1" y1="2035.7" x2="565.1" y2="2035.7"/>
<line x1="546.1" y1="2025.1" x2="565.1" y2="2025.1"/>
<line x1="546.1" y1="2014.4" x2="565.1" y2="2014.4"/>
<line x1="528.1" y1="2003.7" x2="565.1" y2="2003.7"/>
<line x1="546.1" y1="1993" x2="565.1" y2="1993"/>
<line x1="546.1" y1="1982.3" x2="565.1" y2="1982.3"/>
<line x1="546.1" y1="1971.7" x2="565.1" y2="1971.7"/>
<line x1="546.1" y1="1961" x2="565.1" y2="1961"/>
<line x1="528.1" y1="1950.3" x2="565.1" y2="1950.3"/>
<line x1="546.1" y1="1939.6" x2="565.1" y2="1939.6"/>
<line x1="546.1" y1="1928.9" x2="565.1" y2="1928.9"/>
<line x1="546.1" y1="1918.3" x2="565.1" y2="1918.3"/>
<line x1="546.1" y1="1907.6" x2="565.1" y2="1907.6"/>
<line x1="528.1" y1="1896.9" x2="565.1" y2="1896.9"/>
<text class="tl" text-anchor="end" transform="translate(506,1910.3) scale(1.02,1.1)">40</text>
<text class="tl" text-anchor="end" transform="translate(506,1963.7) scale(1.02,1.1)">30</text>
<text class="tl" text-anchor="end" transform="translate(506,2017.1) scale(1.02,1.1)">20</text>
<text class="tl" text-anchor="end" transform="translate(506,2070.5) scale(1.02,1.1)">10</text>
<text class="tl" text-anchor="end" transform="translate(506,2123.9) scale(1.02,1.1)">0</text>
<text class="tl" text-anchor="end" transform="translate(506,2177.3) scale(1.02,1.1)">-10</text>
<text class="tl" text-anchor="end" transform="translate(506,2230.7) scale(1.02,1.1)">-20</text>
<text class="tl" text-anchor="end" transform="translate(506,2284.1) scale(1.02,1.1)">-30</text>
<line x1="602.4" y1="2304.2" x2="1351.3" y2="2304.2"/>
<line x1="602.2" y1="2304.2" x2="602.2" y2="2340.1"/>
<line x1="633.6" y1="2304.2" x2="633.6" y2="2322"/>
<line x1="665" y1="2304.2" x2="665" y2="2331.1"/>
<line x1="696.3" y1="2304.2" x2="696.3" y2="2322"/>
<line x1="727.7" y1="2304.2" x2="727.7" y2="2340.1"/>
<line x1="759.1" y1="2304.2" x2="759.1" y2="2322"/>
<line x1="790.5" y1="2304.2" x2="790.5" y2="2331.1"/>
<line x1="821.8" y1="2304.2" x2="821.8" y2="2322"/>
<line x1="853.2" y1="2304.2" x2="853.2" y2="2340.1"/>
<line x1="884.6" y1="2304.2" x2="884.6" y2="2322"/>
<line x1="916" y1="2304.2" x2="916" y2="2331.1"/>
<line x1="947.3" y1="2304.2" x2="947.3" y2="2322"/>
<line x1="978.7" y1="2304.2" x2="978.7" y2="2340.1"/>
<line x1="1010.1" y1="2304.2" x2="1010.1" y2="2322"/>
<line x1="1041.5" y1="2304.2" x2="1041.5" y2="2331.1"/>
<line x1="1072.8" y1="2304.2" x2="1072.8" y2="2322"/>
<line x1="1104.2" y1="2304.2" x2="1104.2" y2="2340.1"/>
<line x1="1135.6" y1="2304.2" x2="1135.6" y2="2322"/>
<line x1="1167" y1="2304.2" x2="1167" y2="2331.1"/>
<line x1="1198.3" y1="2304.2" x2="1198.3" y2="2322"/>
<line x1="1229.7" y1="2304.2" x2="1229.7" y2="2340.1"/>
<line x1="1261.1" y1="2304.2" x2="1261.1" y2="2322"/>
<line x1="1292.5" y1="2304.2" x2="1292.5" y2="2331.1"/>
<line x1="1323.8" y1="2304.2" x2="1323.8" y2="2322"/>
<text class="tl" text-anchor="middle" transform="translate(599.7,2391.7) scale(1.02,1.1)">-20</text>
<text class="tl" text-anchor="middle" transform="translate(725.2,2391.7) scale(1.02,1.1)">0</text>
<text class="tl" text-anchor="middle" transform="translate(850.7,2391.7) scale(1.02,1.1)">20</text>
<text class="tl" text-anchor="middle" transform="translate(976.2,2391.7) scale(1.02,1.1)">40</text>
<text class="tl" text-anchor="middle" transform="translate(1101.7,2391.7) scale(1.02,1.1)">60</text>
<text class="tl" text-anchor="middle" transform="translate(1227.2,2391.7) scale(1.02,1.1)">80</text>
<line x1="568.3" y1="2454.4" x2="568.3" y2="2824.3"/>
<line x1="549.3" y1="2823.9" x2="568.3" y2="2823.9"/>
<line x1="531.3" y1="2813.3" x2="568.3" y2="2813.3"/>
<line x1="549.3" y1="2802.7" x2="568.3" y2="2802.7"/>
<line x1="549.3" y1="2792" x2="568.3" y2="2792"/>
<line x1="549.3" y1="2781.4" x2="568.3" y2="2781.4"/>
<line x1="549.3" y1="2770.7" x2="568.3" y2="2770.7"/>
<line x1="531.3" y1="2760.1" x2="568.3" y2="2760.1"/>
<line x1="549.3" y1="2749.5" x2="568.3" y2="2749.5"/>
<line x1="549.3" y1="2738.8" x2="568.3" y2="2738.8"/>
<line x1="549.3" y1="2728.2" x2="568.3" y2="2728.2"/>
<line x1="549.3" y1="2717.5" x2="568.3" y2="2717.5"/>
<line x1="531.3" y1="2706.9" x2="568.3" y2="2706.9"/>
<line x1="549.3" y1="2696.3" x2="568.3" y2="2696.3"/>
<line x1="549.3" y1="2685.6" x2="568.3" y2="2685.6"/>
<line x1="549.3" y1="2675" x2="568.3" y2="2675"/>
<line x1="549.3" y1="2664.3" x2="568.3" y2="2664.3"/>
<line x1="531.3" y1="2653.7" x2="568.3" y2="2653.7"/>
<line x1="549.3" y1="2643.1" x2="568.3" y2="2643.1"/>
<line x1="549.3" y1="2632.4" x2="568.3" y2="2632.4"/>
<line x1="549.3" y1="2621.8" x2="568.3" y2="2621.8"/>
<line x1="549.3" y1="2611.1" x2="568.3" y2="2611.1"/>
<line x1="531.3" y1="2600.5" x2="568.3" y2="2600.5"/>
<line x1="549.3" y1="2589.9" x2="568.3" y2="2589.9"/>
<line x1="549.3" y1="2579.2" x2="568.3" y2="2579.2"/>
<line x1="549.3" y1="2568.6" x2="568.3" y2="2568.6"/>
<line x1="549.3" y1="2557.9" x2="568.3" y2="2557.9"/>
<line x1="531.3" y1="2547.3" x2="568.3" y2="2547.3"/>
<line x1="549.3" y1="2536.7" x2="568.3" y2="2536.7"/>
<line x1="549.3" y1="2526" x2="568.3" y2="2526"/>
<line x1="549.3" y1="2515.4" x2="568.3" y2="2515.4"/>
<line x1="549.3" y1="2504.7" x2="568.3" y2="2504.7"/>
<line x1="531.3" y1="2494.1" x2="568.3" y2="2494.1"/>
<line x1="549.3" y1="2483.5" x2="568.3" y2="2483.5"/>
<line x1="549.3" y1="2472.8" x2="568.3" y2="2472.8"/>
<line x1="549.3" y1="2462.2" x2="568.3" y2="2462.2"/>
<text class="tl" text-anchor="end" transform="translate(508.2,2507.5) scale(1.02,1.1)">30</text>
<text class="tl" text-anchor="end" transform="translate(508.2,2560.7) scale(1.02,1.1)">20</text>
<text class="tl" text-anchor="end" transform="translate(508.2,2613.9) scale(1.02,1.1)">10</text>
<text class="tl" text-anchor="end" transform="translate(508.2,2667.1) scale(1.02,1.1)">0</text>
<text class="tl" text-anchor="end" transform="translate(508.2,2720.3) scale(1.02,1.1)">-10</text>
<text class="tl" text-anchor="end" transform="translate(508.2,2773.5) scale(1.02,1.1)">-20</text>
<text class="tl" text-anchor="end" transform="translate(508.2,2826.7) scale(1.02,1.1)">-30</text>
<line x1="604" y1="2860" x2="1354.4" y2="2860"/>
<line x1="603.5" y1="2860" x2="603.5" y2="2895.9"/>
<line x1="634.9" y1="2860" x2="634.9" y2="2877.8"/>
<line x1="666.4" y1="2860" x2="666.4" y2="2886.9"/>
<line x1="697.8" y1="2860" x2="697.8" y2="2877.8"/>
<line x1="729.3" y1="2860" x2="729.3" y2="2895.9"/>
<line x1="760.8" y1="2860" x2="760.8" y2="2877.8"/>
<line x1="792.2" y1="2860" x2="792.2" y2="2886.9"/>
<line x1="823.6" y1="2860" x2="823.6" y2="2877.8"/>
<line x1="855.1" y1="2860" x2="855.1" y2="2895.9"/>
<line x1="886.5" y1="2860" x2="886.5" y2="2877.8"/>
<line x1="918" y1="2860" x2="918" y2="2886.9"/>
<line x1="949.4" y1="2860" x2="949.4" y2="2877.8"/>
<line x1="980.9" y1="2860" x2="980.9" y2="2895.9"/>
<line x1="1012.3" y1="2860" x2="1012.3" y2="2877.8"/>
<line x1="1043.8" y1="2860" x2="1043.8" y2="2886.9"/>
<line x1="1075.2" y1="2860" x2="1075.2" y2="2877.8"/>
<line x1="1106.7" y1="2860" x2="1106.7" y2="2895.9"/>
<line x1="1138.2" y1="2860" x2="1138.2" y2="2877.8"/>
<line x1="1169.6" y1="2860" x2="1169.6" y2="2886.9"/>
<line x1="1201" y1="2860" x2="1201" y2="2877.8"/>
<line x1="1232.5" y1="2860" x2="1232.5" y2="2895.9"/>
<line x1="1263.9" y1="2860" x2="1263.9" y2="2877.8"/>
<line x1="1295.4" y1="2860" x2="1295.4" y2="2886.9"/>
<line x1="1326.8" y1="2860" x2="1326.8" y2="2877.8"/>
<text class="tl" text-anchor="middle" transform="translate(601,2948.5) scale(1.02,1.1)">-20</text>
<text class="tl" text-anchor="middle" transform="translate(726.8,2948.5) scale(1.02,1.1)">0</text>
<text class="tl" text-anchor="middle" transform="translate(852.6,2948.5) scale(1.02,1.1)">20</text>
<text class="tl" text-anchor="middle" transform="translate(978.4,2948.5) scale(1.02,1.1)">40</text>
<text class="tl" text-anchor="middle" transform="translate(1104.2,2948.5) scale(1.02,1.1)">60</text>
<text class="tl" text-anchor="middle" transform="translate(1230,2948.5) scale(1.02,1.1)">80</text>
<line x1="571.5" y1="3001.9" x2="571.5" y2="3372.7"/>
<line x1="552.5" y1="3365.6" x2="571.5" y2="3365.6"/>
<line x1="552.5" y1="3355" x2="571.5" y2="3355"/>
<line x1="552.5" y1="3344.3" x2="571.5" y2="3344.3"/>
<line x1="534.5" y1="3333.7" x2="571.5" y2="3333.7"/>
<line x1="552.5" y1="3323.1" x2="571.5" y2="3323.1"/>
<line x1="552.5" y1="3312.4" x2="571.5" y2="3312.4"/>
<line x1="552.5" y1="3301.8" x2="571.5" y2="3301.8"/>
<line x1="552.5" y1="3291.1" x2="571.5" y2="3291.1"/>
<line x1="534.5" y1="3280.5" x2="571.5" y2="3280.5"/>
<line x1="552.5" y1="3269.9" x2="571.5" y2="3269.9"/>
<line x1="552.5" y1="3259.2" x2="571.5" y2="3259.2"/>
<line x1="552.5" y1="3248.6" x2="571.5" y2="3248.6"/>
<line x1="552.5" y1="3237.9" x2="571.5" y2="3237.9"/>
<line x1="534.5" y1="3227.3" x2="571.5" y2="3227.3"/>
<line x1="552.5" y1="3216.7" x2="571.5" y2="3216.7"/>
<line x1="552.5" y1="3206" x2="571.5" y2="3206"/>
<line x1="552.5" y1="3195.4" x2="571.5" y2="3195.4"/>
<line x1="552.5" y1="3184.7" x2="571.5" y2="3184.7"/>
<line x1="534.5" y1="3174.1" x2="571.5" y2="3174.1"/>
<line x1="552.5" y1="3163.5" x2="571.5" y2="3163.5"/>
<line x1="552.5" y1="3152.8" x2="571.5" y2="3152.8"/>
<line x1="552.5" y1="3142.2" x2="571.5" y2="3142.2"/>
<line x1="552.5" y1="3131.5" x2="571.5" y2="3131.5"/>
<line x1="534.5" y1="3120.9" x2="571.5" y2="3120.9"/>
<line x1="552.5" y1="3110.3" x2="571.5" y2="3110.3"/>
<line x1="552.5" y1="3099.6" x2="571.5" y2="3099.6"/>
<line x1="552.5" y1="3089" x2="571.5" y2="3089"/>
<line x1="552.5" y1="3078.3" x2="571.5" y2="3078.3"/>
<line x1="534.5" y1="3067.7" x2="571.5" y2="3067.7"/>
<line x1="552.5" y1="3057.1" x2="571.5" y2="3057.1"/>
<line x1="552.5" y1="3046.4" x2="571.5" y2="3046.4"/>
<line x1="552.5" y1="3035.8" x2="571.5" y2="3035.8"/>
<line x1="552.5" y1="3025.1" x2="571.5" y2="3025.1"/>
<line x1="534.5" y1="3014.5" x2="571.5" y2="3014.5"/>
<line x1="552.5" y1="3003.9" x2="571.5" y2="3003.9"/>
<text class="tl" text-anchor="end" transform="translate(511.4,3027.9) scale(1.02,1.1)">30</text>
<text class="tl" text-anchor="end" transform="translate(511.4,3081.1) scale(1.02,1.1)">20</text>
<text class="tl" text-anchor="end" transform="translate(511.4,3134.3) scale(1.02,1.1)">10</text>
<text class="tl" text-anchor="end" transform="translate(511.4,3187.5) scale(1.02,1.1)">0</text>
<text class="tl" text-anchor="end" transform="translate(511.4,3240.7) scale(1.02,1.1)">-10</text>
<text class="tl" text-anchor="end" transform="translate(511.4,3293.9) scale(1.02,1.1)">-20</text>
<text class="tl" text-anchor="end" transform="translate(511.4,3347.1) scale(1.02,1.1)">-30</text>
<line x1="607.5" y1="3406.8" x2="1358.2" y2="3406.8"/>
<line x1="607.3" y1="3406.8" x2="607.3" y2="3442.7"/>
<line x1="638.8" y1="3406.8" x2="638.8" y2="3424.6"/>
<line x1="670.2" y1="3406.8" x2="670.2" y2="3433.7"/>
<line x1="701.6" y1="3406.8" x2="701.6" y2="3424.6"/>
<line x1="733.1" y1="3406.8" x2="733.1" y2="3442.7"/>
<line x1="764.6" y1="3406.8" x2="764.6" y2="3424.6"/>
<line x1="796" y1="3406.8" x2="796" y2="3433.7"/>
<line x1="827.5" y1="3406.8" x2="827.5" y2="3424.6"/>
<line x1="858.9" y1="3406.8" x2="858.9" y2="3442.7"/>
<line x1="890.4" y1="3406.8" x2="890.4" y2="3424.6"/>
<line x1="921.8" y1="3406.8" x2="921.8" y2="3433.7"/>
<line x1="953.2" y1="3406.8" x2="953.2" y2="3424.6"/>
<line x1="984.7" y1="3406.8" x2="984.7" y2="3442.7"/>
<line x1="1016.2" y1="3406.8" x2="1016.2" y2="3424.6"/>
<line x1="1047.6" y1="3406.8" x2="1047.6" y2="3433.7"/>
<line x1="1079" y1="3406.8" x2="1079" y2="3424.6"/>
<line x1="1110.5" y1="3406.8" x2="1110.5" y2="3442.7"/>
<line x1="1142" y1="3406.8" x2="1142" y2="3424.6"/>
<line x1="1173.4" y1="3406.8" x2="1173.4" y2="3433.7"/>
<line x1="1204.8" y1="3406.8" x2="1204.8" y2="3424.6"/>
<line x1="1236.3" y1="3406.8" x2="1236.3" y2="3442.7"/>
<line x1="1267.8" y1="3406.8" x2="1267.8" y2="3424.6"/>
<line x1="1299.2" y1="3406.8" x2="1299.2" y2="3433.7"/>
<line x1="1330.7" y1="3406.8" x2="1330.7" y2="3424.6"/>
<text class="tl" text-anchor="middle" transform="translate(604.8,3496.3) scale(1.02,1.1)">-20</text>
<text class="tl" text-anchor="middle" transform="translate(730.6,3496.3) scale(1.02,1.1)">0</text>
<text class="tl" text-anchor="middle" transform="translate(856.4,3496.3) scale(1.02,1.1)">20</text>
<text class="tl" text-anchor="middle" transform="translate(982.2,3496.3) scale(1.02,1.1)">40</text>
<text class="tl" text-anchor="middle" transform="translate(1108,3496.3) scale(1.02,1.1)">60</text>
<text class="tl" text-anchor="middle" transform="translate(1233.8,3496.3) scale(1.02,1.1)">80</text>
<line x1="1496" y1="216" x2="1496" y2="590"/>
<line x1="1468" y1="588.8" x2="1496" y2="588.8"/>
<line x1="1477" y1="570.1" x2="1496" y2="570.1"/>
<line x1="1459" y1="551.5" x2="1496" y2="551.5"/>
<line x1="1477" y1="532.9" x2="1496" y2="532.9"/>
<line x1="1468" y1="514.2" x2="1496" y2="514.2"/>
<line x1="1477" y1="495.6" x2="1496" y2="495.6"/>
<line x1="1459" y1="476.9" x2="1496" y2="476.9"/>
<line x1="1477" y1="458.2" x2="1496" y2="458.2"/>
<line x1="1468" y1="439.6" x2="1496" y2="439.6"/>
<line x1="1477" y1="420.9" x2="1496" y2="420.9"/>
<line x1="1459" y1="402.3" x2="1496" y2="402.3"/>
<line x1="1477" y1="383.7" x2="1496" y2="383.7"/>
<line x1="1468" y1="365" x2="1496" y2="365"/>
<line x1="1477" y1="346.4" x2="1496" y2="346.4"/>
<line x1="1459" y1="327.7" x2="1496" y2="327.7"/>
<line x1="1477" y1="309.1" x2="1496" y2="309.1"/>
<line x1="1468" y1="290.4" x2="1496" y2="290.4"/>
<line x1="1477" y1="271.8" x2="1496" y2="271.8"/>
<line x1="1459" y1="253.1" x2="1496" y2="253.1"/>
<line x1="1477" y1="234.5" x2="1496" y2="234.5"/>
<line x1="1468" y1="215.8" x2="1496" y2="215.8"/>
<text class="tl" text-anchor="end" transform="translate(1436.5,266.5) scale(1.02,1.1)">4</text>
<text class="tl" text-anchor="end" transform="translate(1436.5,341.1) scale(1.02,1.1)">2</text>
<text class="tl" text-anchor="end" transform="translate(1436.5,415.7) scale(1.02,1.1)">0</text>
<text class="tl" text-anchor="end" transform="translate(1436.5,490.3) scale(1.02,1.1)">-2</text>
<text class="tl" text-anchor="end" transform="translate(1436.5,564.9) scale(1.02,1.1)">-4</text>
<line x1="1530.5" y1="621.8" x2="2303" y2="621.8"/>
<line x1="1530.5" y1="621.8" x2="1530.5" y2="657.7"/>
<line x1="1569.3" y1="621.8" x2="1569.3" y2="639.6"/>
<line x1="1608.1" y1="621.8" x2="1608.1" y2="648.7"/>
<line x1="1647" y1="621.8" x2="1647" y2="639.6"/>
<line x1="1685.8" y1="621.8" x2="1685.8" y2="657.7"/>
<line x1="1724.6" y1="621.8" x2="1724.6" y2="639.6"/>
<line x1="1763.5" y1="621.8" x2="1763.5" y2="648.7"/>
<line x1="1802.3" y1="621.8" x2="1802.3" y2="639.6"/>
<line x1="1841.1" y1="621.8" x2="1841.1" y2="657.7"/>
<line x1="1879.9" y1="621.8" x2="1879.9" y2="639.6"/>
<line x1="1918.8" y1="621.8" x2="1918.8" y2="648.7"/>
<line x1="1957.6" y1="621.8" x2="1957.6" y2="639.6"/>
<line x1="1996.4" y1="621.8" x2="1996.4" y2="657.7"/>
<line x1="2035.2" y1="621.8" x2="2035.2" y2="639.6"/>
<line x1="2074.1" y1="621.8" x2="2074.1" y2="648.7"/>
<line x1="2112.9" y1="621.8" x2="2112.9" y2="639.6"/>
<line x1="2151.7" y1="621.8" x2="2151.7" y2="657.7"/>
<line x1="2190.5" y1="621.8" x2="2190.5" y2="639.6"/>
<line x1="2229.3" y1="621.8" x2="2229.3" y2="648.7"/>
<line x1="2268.2" y1="621.8" x2="2268.2" y2="639.6"/>
<text class="tl" text-anchor="middle" transform="translate(1528.8,711.6) scale(1.02,1.1)">-20</text>
<text class="tl" text-anchor="middle" transform="translate(1684.1,711.6) scale(1.02,1.1)">0</text>
<text class="tl" text-anchor="middle" transform="translate(1839.4,711.6) scale(1.02,1.1)">20</text>
<text class="tl" text-anchor="middle" transform="translate(1994.7,711.6) scale(1.02,1.1)">40</text>
<text class="tl" text-anchor="middle" transform="translate(2150,711.6) scale(1.02,1.1)">60</text>
<line x1="1495.8" y1="767.8" x2="1495.8" y2="1139.8"/>
<line x1="1458.8" y1="1139.8" x2="1495.8" y2="1139.8"/>
<line x1="1476.8" y1="1130.5" x2="1495.8" y2="1130.5"/>
<line x1="1476.8" y1="1121.2" x2="1495.8" y2="1121.2"/>
<line x1="1476.8" y1="1111.9" x2="1495.8" y2="1111.9"/>
<line x1="1476.8" y1="1102.6" x2="1495.8" y2="1102.6"/>
<line x1="1458.8" y1="1093.3" x2="1495.8" y2="1093.3"/>
<line x1="1476.8" y1="1084" x2="1495.8" y2="1084"/>
<line x1="1476.8" y1="1074.7" x2="1495.8" y2="1074.7"/>
<line x1="1476.8" y1="1065.4" x2="1495.8" y2="1065.4"/>
<line x1="1476.8" y1="1056.1" x2="1495.8" y2="1056.1"/>
<line x1="1458.8" y1="1046.8" x2="1495.8" y2="1046.8"/>
<line x1="1476.8" y1="1037.5" x2="1495.8" y2="1037.5"/>
<line x1="1476.8" y1="1028.2" x2="1495.8" y2="1028.2"/>
<line x1="1476.8" y1="1018.9" x2="1495.8" y2="1018.9"/>
<line x1="1476.8" y1="1009.6" x2="1495.8" y2="1009.6"/>
<line x1="1458.8" y1="1000.3" x2="1495.8" y2="1000.3"/>
<line x1="1476.8" y1="991" x2="1495.8" y2="991"/>
<line x1="1476.8" y1="981.7" x2="1495.8" y2="981.7"/>
<line x1="1476.8" y1="972.4" x2="1495.8" y2="972.4"/>
<line x1="1476.8" y1="963.1" x2="1495.8" y2="963.1"/>
<line x1="1458.8" y1="953.8" x2="1495.8" y2="953.8"/>
<line x1="1476.8" y1="944.5" x2="1495.8" y2="944.5"/>
<line x1="1476.8" y1="935.2" x2="1495.8" y2="935.2"/>
<line x1="1476.8" y1="925.9" x2="1495.8" y2="925.9"/>
<line x1="1476.8" y1="916.6" x2="1495.8" y2="916.6"/>
<line x1="1458.8" y1="907.3" x2="1495.8" y2="907.3"/>
<line x1="1476.8" y1="898" x2="1495.8" y2="898"/>
<line x1="1476.8" y1="888.7" x2="1495.8" y2="888.7"/>
<line x1="1476.8" y1="879.4" x2="1495.8" y2="879.4"/>
<line x1="1476.8" y1="870.1" x2="1495.8" y2="870.1"/>
<line x1="1458.8" y1="860.8" x2="1495.8" y2="860.8"/>
<line x1="1476.8" y1="851.5" x2="1495.8" y2="851.5"/>
<line x1="1476.8" y1="842.2" x2="1495.8" y2="842.2"/>
<line x1="1476.8" y1="832.9" x2="1495.8" y2="832.9"/>
<line x1="1476.8" y1="823.6" x2="1495.8" y2="823.6"/>
<line x1="1458.8" y1="814.3" x2="1495.8" y2="814.3"/>
<line x1="1476.8" y1="805" x2="1495.8" y2="805"/>
<line x1="1476.8" y1="795.7" x2="1495.8" y2="795.7"/>
<line x1="1476.8" y1="786.4" x2="1495.8" y2="786.4"/>
<line x1="1476.8" y1="777.1" x2="1495.8" y2="777.1"/>
<line x1="1458.8" y1="767.8" x2="1495.8" y2="767.8"/>
<text class="tl" text-anchor="end" transform="translate(1436.5,781.2) scale(1.02,1.1)">4</text>
<text class="tl" text-anchor="end" transform="translate(1436.5,827.7) scale(1.02,1.1)">3</text>
<text class="tl" text-anchor="end" transform="translate(1436.5,874.2) scale(1.02,1.1)">2</text>
<text class="tl" text-anchor="end" transform="translate(1436.5,920.7) scale(1.02,1.1)">1</text>
<text class="tl" text-anchor="end" transform="translate(1436.5,967.2) scale(1.02,1.1)">0</text>
<text class="tl" text-anchor="end" transform="translate(1436.5,1013.7) scale(1.02,1.1)">-1</text>
<text class="tl" text-anchor="end" transform="translate(1436.5,1060.2) scale(1.02,1.1)">-2</text>
<text class="tl" text-anchor="end" transform="translate(1436.5,1106.7) scale(1.02,1.1)">-3</text>
<text class="tl" text-anchor="end" transform="translate(1436.5,1153.2) scale(1.02,1.1)">-4</text>
<line x1="1532" y1="1173.9" x2="2303.2" y2="1173.9"/>
<line x1="1532.2" y1="1173.9" x2="1532.2" y2="1209.8"/>
<line x1="1571" y1="1173.9" x2="1571" y2="1191.7"/>
<line x1="1609.8" y1="1173.9" x2="1609.8" y2="1200.8"/>
<line x1="1648.6" y1="1173.9" x2="1648.6" y2="1191.7"/>
<line x1="1687.4" y1="1173.9" x2="1687.4" y2="1209.8"/>
<line x1="1726.2" y1="1173.9" x2="1726.2" y2="1191.7"/>
<line x1="1765" y1="1173.9" x2="1765" y2="1200.8"/>
<line x1="1803.8" y1="1173.9" x2="1803.8" y2="1191.7"/>
<line x1="1842.6" y1="1173.9" x2="1842.6" y2="1209.8"/>
<line x1="1881.4" y1="1173.9" x2="1881.4" y2="1191.7"/>
<line x1="1920.2" y1="1173.9" x2="1920.2" y2="1200.8"/>
<line x1="1959" y1="1173.9" x2="1959" y2="1191.7"/>
<line x1="1997.8" y1="1173.9" x2="1997.8" y2="1209.8"/>
<line x1="2036.6" y1="1173.9" x2="2036.6" y2="1191.7"/>
<line x1="2075.4" y1="1173.9" x2="2075.4" y2="1200.8"/>
<line x1="2114.2" y1="1173.9" x2="2114.2" y2="1191.7"/>
<line x1="2153" y1="1173.9" x2="2153" y2="1209.8"/>
<line x1="2191.8" y1="1173.9" x2="2191.8" y2="1191.7"/>
<line x1="2230.6" y1="1173.9" x2="2230.6" y2="1200.8"/>
<line x1="2269.4" y1="1173.9" x2="2269.4" y2="1191.7"/>
<text class="tl" text-anchor="middle" transform="translate(1530.5,1260.8) scale(1.02,1.1)">-20</text>
<text class="tl" text-anchor="middle" transform="translate(1685.7,1260.8) scale(1.02,1.1)">0</text>
<text class="tl" text-anchor="middle" transform="translate(1840.9,1260.8) scale(1.02,1.1)">20</text>
<text class="tl" text-anchor="middle" transform="translate(1996.1,1260.8) scale(1.02,1.1)">40</text>
<text class="tl" text-anchor="middle" transform="translate(2151.3,1260.8) scale(1.02,1.1)">60</text>
<line x1="1500" y1="1318.2" x2="1500" y2="1690.7"/>
<line x1="1463" y1="1690.7" x2="1500" y2="1690.7"/>
<line x1="1481" y1="1678.3" x2="1500" y2="1678.3"/>
<line x1="1472" y1="1665.9" x2="1500" y2="1665.9"/>
<line x1="1481" y1="1653.5" x2="1500" y2="1653.5"/>
<line x1="1463" y1="1641.1" x2="1500" y2="1641.1"/>
<line x1="1481" y1="1628.7" x2="1500" y2="1628.7"/>
<line x1="1472" y1="1616.2" x2="1500" y2="1616.2"/>
<line x1="1481" y1="1603.8" x2="1500" y2="1603.8"/>
<line x1="1463" y1="1591.4" x2="1500" y2="1591.4"/>
<line x1="1481" y1="1579" x2="1500" y2="1579"/>
<line x1="1472" y1="1566.6" x2="1500" y2="1566.6"/>
<line x1="1481" y1="1554.2" x2="1500" y2="1554.2"/>
<line x1="1463" y1="1541.8" x2="1500" y2="1541.8"/>
<line x1="1481" y1="1529.4" x2="1500" y2="1529.4"/>
<line x1="1472" y1="1517" x2="1500" y2="1517"/>
<line x1="1481" y1="1504.5" x2="1500" y2="1504.5"/>
<line x1="1463" y1="1492.1" x2="1500" y2="1492.1"/>
<line x1="1481" y1="1479.7" x2="1500" y2="1479.7"/>
<line x1="1472" y1="1467.3" x2="1500" y2="1467.3"/>
<line x1="1481" y1="1454.9" x2="1500" y2="1454.9"/>
<line x1="1463" y1="1442.5" x2="1500" y2="1442.5"/>
<line x1="1481" y1="1430.1" x2="1500" y2="1430.1"/>
<line x1="1472" y1="1417.7" x2="1500" y2="1417.7"/>
<line x1="1481" y1="1405.3" x2="1500" y2="1405.3"/>
<line x1="1463" y1="1392.9" x2="1500" y2="1392.9"/>
<line x1="1481" y1="1380.5" x2="1500" y2="1380.5"/>
<line x1="1472" y1="1368" x2="1500" y2="1368"/>
<line x1="1481" y1="1355.6" x2="1500" y2="1355.6"/>
<line x1="1463" y1="1343.2" x2="1500" y2="1343.2"/>
<line x1="1481" y1="1330.8" x2="1500" y2="1330.8"/>
<line x1="1472" y1="1318.4" x2="1500" y2="1318.4"/>
<text class="tl" text-anchor="end" transform="translate(1442.9,1356.6) scale(1.02,1.1)">4</text>
<text class="tl" text-anchor="end" transform="translate(1442.9,1406.3) scale(1.02,1.1)">2</text>
<text class="tl" text-anchor="end" transform="translate(1442.9,1455.9) scale(1.02,1.1)">0</text>
<text class="tl" text-anchor="end" transform="translate(1442.9,1505.5) scale(1.02,1.1)">-2</text>
<text class="tl" text-anchor="end" transform="translate(1442.9,1555.2) scale(1.02,1.1)">-4</text>
<text class="tl" text-anchor="end" transform="translate(1442.9,1604.8) scale(1.02,1.1)">-6</text>
<text class="tl" text-anchor="end" transform="translate(1442.9,1654.5) scale(1.02,1.1)">-8</text>
<text class="tl" text-anchor="end" transform="translate(1442.9,1704.1) scale(1.02,1.1)">10</text>
<line x1="1534.2" y1="1725.5" x2="2285" y2="1725.5"/>
<line x1="1534.2" y1="1725.5" x2="1534.2" y2="1761.4"/>
<line x1="1571.9" y1="1725.5" x2="1571.9" y2="1743.3"/>
<line x1="1609.6" y1="1725.5" x2="1609.6" y2="1752.4"/>
<line x1="1647.3" y1="1725.5" x2="1647.3" y2="1743.3"/>
<line x1="1685" y1="1725.5" x2="1685" y2="1761.4"/>
<line x1="1722.7" y1="1725.5" x2="1722.7" y2="1743.3"/>
<line x1="1760.4" y1="1725.5" x2="1760.4" y2="1752.4"/>
<line x1="1798.1" y1="1725.5" x2="1798.1" y2="1743.3"/>
<line x1="1835.8" y1="1725.5" x2="1835.8" y2="1761.4"/>
<line x1="1873.5" y1="1725.5" x2="1873.5" y2="1743.3"/>
<line x1="1911.2" y1="1725.5" x2="1911.2" y2="1752.4"/>
<line x1="1948.9" y1="1725.5" x2="1948.9" y2="1743.3"/>
<line x1="1986.6" y1="1725.5" x2="1986.6" y2="1761.4"/>
<line x1="2024.3" y1="1725.5" x2="2024.3" y2="1743.3"/>
<line x1="2062" y1="1725.5" x2="2062" y2="1752.4"/>
<line x1="2099.7" y1="1725.5" x2="2099.7" y2="1743.3"/>
<line x1="2137.4" y1="1725.5" x2="2137.4" y2="1761.4"/>
<line x1="2175.1" y1="1725.5" x2="2175.1" y2="1743.3"/>
<line x1="2212.8" y1="1725.5" x2="2212.8" y2="1752.4"/>
<line x1="2250.5" y1="1725.5" x2="2250.5" y2="1743.3"/>
<text class="tl" text-anchor="middle" transform="translate(1532.5,1812.6) scale(1.02,1.1)">-20</text>
<text class="tl" text-anchor="middle" transform="translate(1683.3,1812.6) scale(1.02,1.1)">0</text>
<text class="tl" text-anchor="middle" transform="translate(1834.1,1812.6) scale(1.02,1.1)">20</text>
<text class="tl" text-anchor="middle" transform="translate(1984.9,1812.6) scale(1.02,1.1)">40</text>
<text class="tl" text-anchor="middle" transform="translate(2135.7,1812.6) scale(1.02,1.1)">60</text>
<line x1="1503.4" y1="1896.5" x2="1503.4" y2="2269"/>
<line x1="1466.4" y1="2269.1" x2="1503.4" y2="2269.1"/>
<line x1="1484.4" y1="2248.4" x2="1503.4" y2="2248.4"/>
<line x1="1475.4" y1="2227.7" x2="1503.4" y2="2227.7"/>
<line x1="1484.4" y1="2207" x2="1503.4" y2="2207"/>
<line x1="1466.4" y1="2186.3" x2="1503.4" y2="2186.3"/>
<line x1="1484.4" y1="2165.6" x2="1503.4" y2="2165.6"/>
<line x1="1475.4" y1="2144.9" x2="1503.4" y2="2144.9"/>
<line x1="1484.4" y1="2124.2" x2="1503.4" y2="2124.2"/>
<line x1="1466.4" y1="2103.5" x2="1503.4" y2="2103.5"/>
<line x1="1484.4" y1="2082.8" x2="1503.4" y2="2082.8"/>
<line x1="1475.4" y1="2062.1" x2="1503.4" y2="2062.1"/>
<line x1="1484.4" y1="2041.4" x2="1503.4" y2="2041.4"/>
<line x1="1466.4" y1="2020.7" x2="1503.4" y2="2020.7"/>
<line x1="1484.4" y1="2000" x2="1503.4" y2="2000"/>
<line x1="1475.4" y1="1979.3" x2="1503.4" y2="1979.3"/>
<line x1="1484.4" y1="1958.6" x2="1503.4" y2="1958.6"/>
<line x1="1466.4" y1="1937.9" x2="1503.4" y2="1937.9"/>
<line x1="1484.4" y1="1917.2" x2="1503.4" y2="1917.2"/>
<line x1="1475.4" y1="1896.5" x2="1503.4" y2="1896.5"/>
<text class="tl" text-anchor="end" transform="translate(1442.9,1951.3) scale(1.02,1.1)">4</text>
<text class="tl" text-anchor="end" transform="translate(1442.9,2034.1) scale(1.02,1.1)">2</text>
<text class="tl" text-anchor="end" transform="translate(1442.9,2116.9) scale(1.02,1.1)">0</text>
<text class="tl" text-anchor="end" transform="translate(1442.9,2199.7) scale(1.02,1.1)">-2</text>
<text class="tl" text-anchor="end" transform="translate(1442.9,2282.5) scale(1.02,1.1)">-4</text>
<line x1="1538.5" y1="2303.9" x2="2310.7" y2="2303.9"/>
<line x1="1538.6" y1="2303.9" x2="1538.6" y2="2339.8"/>
<line x1="1577.4" y1="2303.9" x2="1577.4" y2="2321.7"/>
<line x1="1616.2" y1="2303.9" x2="1616.2" y2="2330.8"/>
<line x1="1655" y1="2303.9" x2="1655" y2="2321.7"/>
<line x1="1693.8" y1="2303.9" x2="1693.8" y2="2339.8"/>
<line x1="1732.6" y1="2303.9" x2="1732.6" y2="2321.7"/>
<line x1="1771.4" y1="2303.9" x2="1771.4" y2="2330.8"/>
<line x1="1810.2" y1="2303.9" x2="1810.2" y2="2321.7"/>
<line x1="1849" y1="2303.9" x2="1849" y2="2339.8"/>
<line x1="1887.8" y1="2303.9" x2="1887.8" y2="2321.7"/>
<line x1="1926.6" y1="2303.9" x2="1926.6" y2="2330.8"/>
<line x1="1965.4" y1="2303.9" x2="1965.4" y2="2321.7"/>
<line x1="2004.2" y1="2303.9" x2="2004.2" y2="2339.8"/>
<line x1="2043" y1="2303.9" x2="2043" y2="2321.7"/>
<line x1="2081.8" y1="2303.9" x2="2081.8" y2="2330.8"/>
<line x1="2120.6" y1="2303.9" x2="2120.6" y2="2321.7"/>
<line x1="2159.4" y1="2303.9" x2="2159.4" y2="2339.8"/>
<line x1="2198.2" y1="2303.9" x2="2198.2" y2="2321.7"/>
<line x1="2237" y1="2303.9" x2="2237" y2="2330.8"/>
<line x1="2275.8" y1="2303.9" x2="2275.8" y2="2321.7"/>
<text class="tl" text-anchor="middle" transform="translate(1536.9,2392.6) scale(1.02,1.1)">-20</text>
<text class="tl" text-anchor="middle" transform="translate(1692.1,2392.6) scale(1.02,1.1)">0</text>
<text class="tl" text-anchor="middle" transform="translate(1847.3,2392.6) scale(1.02,1.1)">20</text>
<text class="tl" text-anchor="middle" transform="translate(2002.5,2392.6) scale(1.02,1.1)">40</text>
<text class="tl" text-anchor="middle" transform="translate(2157.7,2392.6) scale(1.02,1.1)">60</text>
<line x1="1504.4" y1="2452.2" x2="1504.4" y2="2826.4"/>
<line x1="1476.4" y1="2826.3" x2="1504.4" y2="2826.3"/>
<line x1="1485.4" y1="2807.7" x2="1504.4" y2="2807.7"/>
<line x1="1467.4" y1="2789" x2="1504.4" y2="2789"/>
<line x1="1485.4" y1="2770.3" x2="1504.4" y2="2770.3"/>
<line x1="1476.4" y1="2751.7" x2="1504.4" y2="2751.7"/>
<line x1="1485.4" y1="2733" x2="1504.4" y2="2733"/>
<line x1="1467.4" y1="2714.3" x2="1504.4" y2="2714.3"/>
<line x1="1485.4" y1="2695.6" x2="1504.4" y2="2695.6"/>
<line x1="1476.4" y1="2676.9" x2="1504.4" y2="2676.9"/>
<line x1="1485.4" y1="2658.3" x2="1504.4" y2="2658.3"/>
<line x1="1467.4" y1="2639.6" x2="1504.4" y2="2639.6"/>
<line x1="1485.4" y1="2620.9" x2="1504.4" y2="2620.9"/>
<line x1="1476.4" y1="2602.2" x2="1504.4" y2="2602.2"/>
<line x1="1485.4" y1="2583.6" x2="1504.4" y2="2583.6"/>
<line x1="1467.4" y1="2564.9" x2="1504.4" y2="2564.9"/>
<line x1="1485.4" y1="2546.2" x2="1504.4" y2="2546.2"/>
<line x1="1476.4" y1="2527.5" x2="1504.4" y2="2527.5"/>
<line x1="1485.4" y1="2508.9" x2="1504.4" y2="2508.9"/>
<line x1="1467.4" y1="2490.2" x2="1504.4" y2="2490.2"/>
<line x1="1485.4" y1="2471.5" x2="1504.4" y2="2471.5"/>
<line x1="1476.4" y1="2452.8" x2="1504.4" y2="2452.8"/>
<text class="tl" text-anchor="end" transform="translate(1444.5,2503.6) scale(1.02,1.1)">4</text>
<text class="tl" text-anchor="end" transform="translate(1444.5,2578.3) scale(1.02,1.1)">2</text>
<text class="tl" text-anchor="end" transform="translate(1444.5,2653) scale(1.02,1.1)">0</text>
<text class="tl" text-anchor="end" transform="translate(1444.5,2727.7) scale(1.02,1.1)">-2</text>
<text class="tl" text-anchor="end" transform="translate(1444.5,2802.4) scale(1.02,1.1)">-4</text>
<line x1="1539.9" y1="2859.9" x2="2312.4" y2="2859.9"/>
<line x1="1539.6" y1="2859.9" x2="1539.6" y2="2895.8"/>
<line x1="1578.4" y1="2859.9" x2="1578.4" y2="2877.7"/>
<line x1="1617.2" y1="2859.9" x2="1617.2" y2="2886.8"/>
<line x1="1656.1" y1="2859.9" x2="1656.1" y2="2877.7"/>
<line x1="1694.9" y1="2859.9" x2="1694.9" y2="2895.8"/>
<line x1="1733.7" y1="2859.9" x2="1733.7" y2="2877.7"/>
<line x1="1772.6" y1="2859.9" x2="1772.6" y2="2886.8"/>
<line x1="1811.4" y1="2859.9" x2="1811.4" y2="2877.7"/>
<line x1="1850.2" y1="2859.9" x2="1850.2" y2="2895.8"/>
<line x1="1889" y1="2859.9" x2="1889" y2="2877.7"/>
<line x1="1927.9" y1="2859.9" x2="1927.9" y2="2886.8"/>
<line x1="1966.7" y1="2859.9" x2="1966.7" y2="2877.7"/>
<line x1="2005.5" y1="2859.9" x2="2005.5" y2="2895.8"/>
<line x1="2044.3" y1="2859.9" x2="2044.3" y2="2877.7"/>
<line x1="2083.2" y1="2859.9" x2="2083.2" y2="2886.8"/>
<line x1="2122" y1="2859.9" x2="2122" y2="2877.7"/>
<line x1="2160.8" y1="2859.9" x2="2160.8" y2="2895.8"/>
<line x1="2199.6" y1="2859.9" x2="2199.6" y2="2877.7"/>
<line x1="2238.4" y1="2859.9" x2="2238.4" y2="2886.8"/>
<line x1="2277.3" y1="2859.9" x2="2277.3" y2="2877.7"/>
<text class="tl" text-anchor="middle" transform="translate(1537.9,2947.6) scale(1.02,1.1)">-20</text>
<text class="tl" text-anchor="middle" transform="translate(1693.2,2947.6) scale(1.02,1.1)">0</text>
<text class="tl" text-anchor="middle" transform="translate(1848.5,2947.6) scale(1.02,1.1)">20</text>
<text class="tl" text-anchor="middle" transform="translate(2003.8,2947.6) scale(1.02,1.1)">40</text>
<text class="tl" text-anchor="middle" transform="translate(2159.1,2947.6) scale(1.02,1.1)">60</text>
<line x1="1507.7" y1="3000.5" x2="1507.7" y2="3373.4"/>
<line x1="1470.7" y1="3374.8" x2="1507.7" y2="3374.8"/>
<line x1="1488.7" y1="3359.8" x2="1507.7" y2="3359.8"/>
<line x1="1488.7" y1="3344.9" x2="1507.7" y2="3344.9"/>
<line x1="1488.7" y1="3330" x2="1507.7" y2="3330"/>
<line x1="1488.7" y1="3315" x2="1507.7" y2="3315"/>
<line x1="1470.7" y1="3300.1" x2="1507.7" y2="3300.1"/>
<line x1="1488.7" y1="3285.2" x2="1507.7" y2="3285.2"/>
<line x1="1488.7" y1="3270.2" x2="1507.7" y2="3270.2"/>
<line x1="1488.7" y1="3255.3" x2="1507.7" y2="3255.3"/>
<line x1="1488.7" y1="3240.4" x2="1507.7" y2="3240.4"/>
<line x1="1470.7" y1="3225.5" x2="1507.7" y2="3225.5"/>
<line x1="1488.7" y1="3210.5" x2="1507.7" y2="3210.5"/>
<line x1="1488.7" y1="3195.6" x2="1507.7" y2="3195.6"/>
<line x1="1488.7" y1="3180.7" x2="1507.7" y2="3180.7"/>
<line x1="1488.7" y1="3165.7" x2="1507.7" y2="3165.7"/>
<line x1="1470.7" y1="3150.8" x2="1507.7" y2="3150.8"/>
<line x1="1488.7" y1="3135.9" x2="1507.7" y2="3135.9"/>
<line x1="1488.7" y1="3120.9" x2="1507.7" y2="3120.9"/>
<line x1="1488.7" y1="3106" x2="1507.7" y2="3106"/>
<line x1="1488.7" y1="3091.1" x2="1507.7" y2="3091.1"/>
<line x1="1470.7" y1="3076.2" x2="1507.7" y2="3076.2"/>
<line x1="1488.7" y1="3061.2" x2="1507.7" y2="3061.2"/>
<line x1="1488.7" y1="3046.3" x2="1507.7" y2="3046.3"/>
<line x1="1488.7" y1="3031.4" x2="1507.7" y2="3031.4"/>
<line x1="1488.7" y1="3016.4" x2="1507.7" y2="3016.4"/>
<line x1="1470.7" y1="3001.5" x2="1507.7" y2="3001.5"/>
<text class="tl" text-anchor="end" transform="translate(1449.5,3014.9) scale(1.02,1.1)">10</text>
<text class="tl" text-anchor="end" transform="translate(1449.5,3089.6) scale(1.02,1.1)">5</text>
<text class="tl" text-anchor="end" transform="translate(1449.5,3164.2) scale(1.02,1.1)">0</text>
<text class="tl" text-anchor="end" transform="translate(1449.5,3238.9) scale(1.02,1.1)">-5</text>
<text class="tl" text-anchor="end" transform="translate(1449.5,3313.5) scale(1.02,1.1)">-10</text>
<text class="tl" text-anchor="end" transform="translate(1449.5,3388.2) scale(1.02,1.1)">-15</text>
<line x1="1542.5" y1="3407.2" x2="2292.5" y2="3407.2"/>
<line x1="1543" y1="3407.2" x2="1543" y2="3443.1"/>
<line x1="1580.7" y1="3407.2" x2="1580.7" y2="3425"/>
<line x1="1618.4" y1="3407.2" x2="1618.4" y2="3434.1"/>
<line x1="1656.1" y1="3407.2" x2="1656.1" y2="3425"/>
<line x1="1693.8" y1="3407.2" x2="1693.8" y2="3443.1"/>
<line x1="1731.5" y1="3407.2" x2="1731.5" y2="3425"/>
<line x1="1769.2" y1="3407.2" x2="1769.2" y2="3434.1"/>
<line x1="1806.9" y1="3407.2" x2="1806.9" y2="3425"/>
<line x1="1844.6" y1="3407.2" x2="1844.6" y2="3443.1"/>
<line x1="1882.3" y1="3407.2" x2="1882.3" y2="3425"/>
<line x1="1920" y1="3407.2" x2="1920" y2="3434.1"/>
<line x1="1957.7" y1="3407.2" x2="1957.7" y2="3425"/>
<line x1="1995.4" y1="3407.2" x2="1995.4" y2="3443.1"/>
<line x1="2033.1" y1="3407.2" x2="2033.1" y2="3425"/>
<line x1="2070.8" y1="3407.2" x2="2070.8" y2="3434.1"/>
<line x1="2108.5" y1="3407.2" x2="2108.5" y2="3425"/>
<line x1="2146.2" y1="3407.2" x2="2146.2" y2="3443.1"/>
<line x1="2183.9" y1="3407.2" x2="2183.9" y2="3425"/>
<line x1="2221.6" y1="3407.2" x2="2221.6" y2="3434.1"/>
<line x1="2259.3" y1="3407.2" x2="2259.3" y2="3425"/>
<text class="tl" text-anchor="middle" transform="translate(1541.3,3495.9) scale(1.02,1.1)">-20</text>
<text class="tl" text-anchor="middle" transform="translate(1692.1,3495.9) scale(1.02,1.1)">0</text>
<text class="tl" text-anchor="middle" transform="translate(1842.9,3495.9) scale(1.02,1.1)">20</text>
<text class="tl" text-anchor="middle" transform="translate(1993.7,3495.9) scale(1.02,1.1)">40</text>
<text class="tl" text-anchor="middle" transform="translate(2144.5,3495.9) scale(1.02,1.1)">60</text>
</g>
<line x1="1246.6" y1="226.5" x2="1318.9" y2="226.5" stroke="#009E78" stroke-width="11.8"/>
<line x1="1246.6" y1="280.5" x2="1318.9" y2="280.5" stroke="#FA5F00" stroke-width="7"/>
<text class="tl" x="1336" y="239.4">1</text>
<text class="tl" x="1336" y="292.7">2</text>
<text class="b" font-size="82" transform="translate(53.6,141.4) scale(0.989,1.022)">PKAB149</text>
<text class="b" font-size="82" transform="translate(53.6,1835.7) scale(0.989,1.022)">PKED06</text>
<text class="b" x="604" y="128.4" font-size="67.5">Photopic flash response</text>
<text class="b" font-size="67.5" transform="translate(1531,128.7) scale(0.998,1.03)">Photopic flicker response</text>
<text class="b" x="926.5" y="3575.3" font-size="59">ms</text>
<text class="b" x="1874.5" y="3575.3" font-size="59">ms</text>
<text class="b" font-size="68" text-anchor="middle" transform="translate(223.3,385.9) rotate(-90)">Normal</text>
<text class="b" font-size="67.5" text-anchor="middle" transform="translate(285.5,386.3) rotate(-90)">(III:4)</text>
<text class="b" font-size="58.5" text-anchor="middle" transform="translate(365.2,387) rotate(-90)">μV</text>
<text class="b" font-size="68" text-anchor="middle" transform="translate(223.3,935.3) rotate(-90)">Affected</text>
<text class="b" font-size="67.5" text-anchor="middle" transform="translate(285.5,933.8) rotate(-90)">(III:2)</text>
<text class="b" font-size="58.5" text-anchor="middle" transform="translate(365.2,920.4) rotate(-90)">μV</text>
<text class="b" font-size="68" text-anchor="middle" transform="translate(223.3,1500.5) rotate(-90)">Affected</text>
<text class="b" font-size="67.5" text-anchor="middle" transform="translate(285.5,1498.6) rotate(-90)">(III:3)</text>
<text class="b" font-size="58.5" text-anchor="middle" transform="translate(365.2,1493.7) rotate(-90)">μV</text>
<text class="b" font-size="68" text-anchor="middle" transform="translate(223.3,2065.9) rotate(-90)">Normal</text>
<text class="b" font-size="67.5" text-anchor="middle" transform="translate(285.5,2067.1) rotate(-90)">(III:6)</text>
<text class="b" font-size="58.5" text-anchor="middle" transform="translate(365.2,2067.6) rotate(-90)">μV</text>
<text class="b" font-size="68" text-anchor="middle" transform="translate(223.3,2623.7) rotate(-90)">Affected</text>
<text class="b" font-size="67.5" text-anchor="middle" transform="translate(285.5,2622.3) rotate(-90)">(III:3)</text>
<text class="b" font-size="58.5" text-anchor="middle" transform="translate(365.2,2601) rotate(-90)">μV</text>
<text class="b" font-size="68" text-anchor="middle" transform="translate(223.3,3180.3) rotate(-90)">Affected</text>
<text class="b" font-size="67.5" text-anchor="middle" transform="translate(285.5,3178.2) rotate(-90)">(III:9)</text>
<text class="b" font-size="58.5" text-anchor="middle" transform="translate(365.2,3152.7) rotate(-90)">μV</text>
<rect x="447.3" y="2659.8" width="3" height="3.6" fill="#8a8a8a"/>
</svg>
</body></html>
